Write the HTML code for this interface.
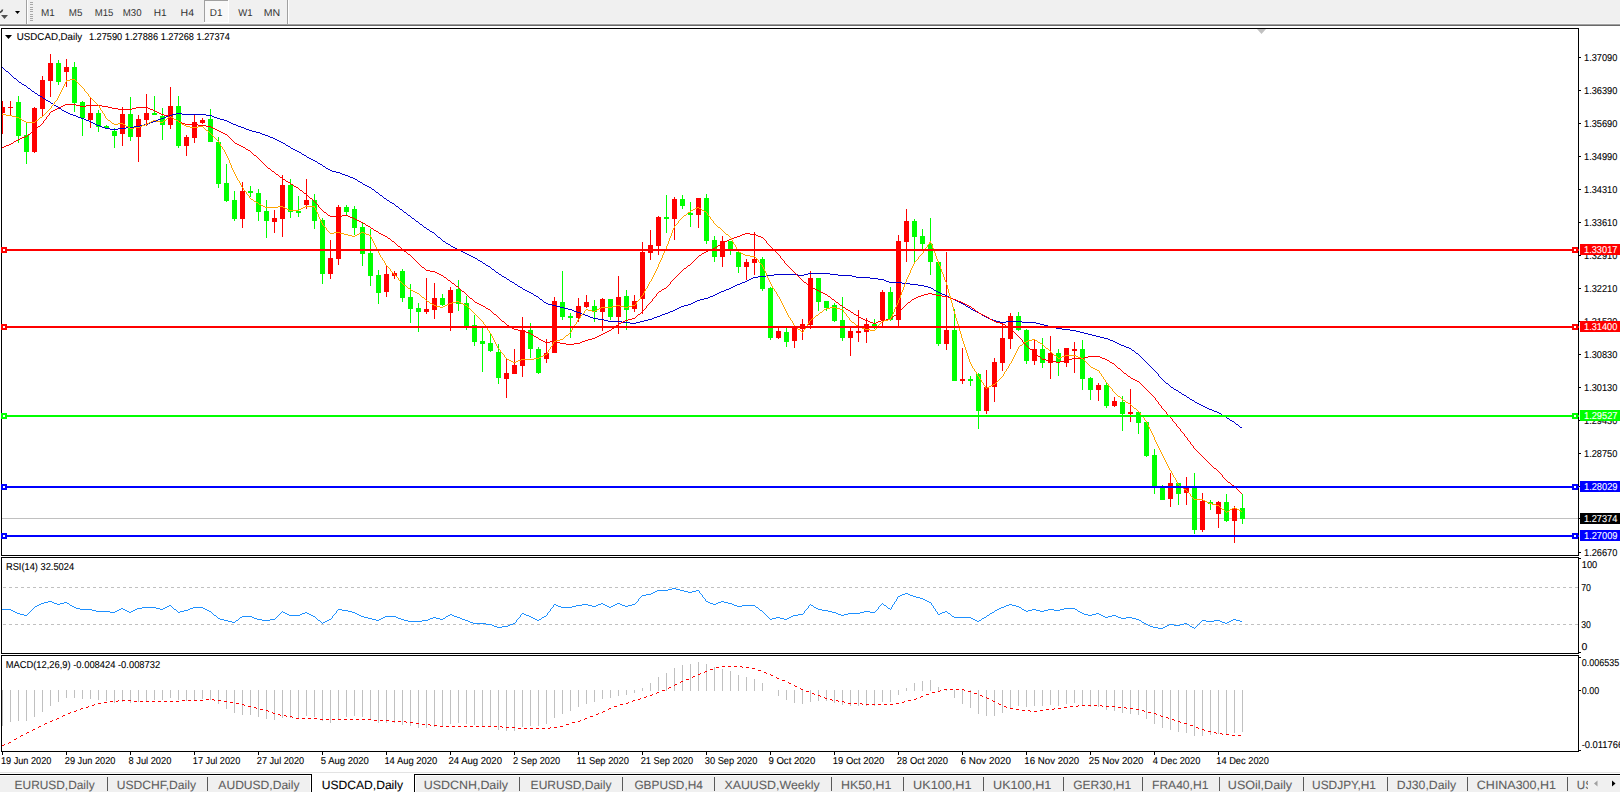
<!DOCTYPE html>
<html><head><meta charset="utf-8"><title>USDCAD,Daily</title>
<style>
html,body{margin:0;padding:0;background:#fff;width:1620px;height:792px;overflow:hidden}
svg{display:block}
text{font-family:'Liberation Sans', sans-serif;text-rendering:geometricPrecision}
</style></head><body>
<svg width="1620" height="792" viewBox="0 0 1620 792">
<defs>
<clipPath id="cmain"><rect x="2" y="29" width="1576" height="526"/></clipPath>
<clipPath id="crsi"><rect x="2" y="558" width="1576" height="95"/></clipPath>
<clipPath id="cmacd"><rect x="2" y="656" width="1576" height="95"/></clipPath>
<clipPath id="cright"><rect x="1579" y="0" width="41" height="792"/></clipPath>
<clipPath id="ctabs"><rect x="0" y="776" width="1588" height="16"/></clipPath>
</defs>
<rect x="0" y="0" width="1620" height="792" fill="#ffffff"/>

<g shape-rendering="crispEdges">
<rect x="0" y="0" width="1620" height="24" fill="#f0f0f0"/>
<rect x="0" y="23" width="1620" height="1" fill="#f5f5f5"/>
<rect x="0" y="24" width="1620" height="1" fill="#a0a0a0"/>
<rect x="0" y="25" width="1620" height="1" fill="#696969"/>
<rect x="26" y="0" width="1" height="24" fill="#a0a0a0"/><rect x="27" y="0" width="1" height="24" fill="#ffffff"/>
<rect x="287" y="0" width="1" height="24" fill="#a0a0a0"/><rect x="288" y="0" width="1" height="24" fill="#ffffff"/>
<rect x="30" y="2" width="3" height="1" fill="#a8a8a8"/>
<rect x="30" y="4" width="3" height="1" fill="#a8a8a8"/>
<rect x="30" y="7" width="3" height="1" fill="#a8a8a8"/>
<rect x="30" y="9" width="3" height="1" fill="#a8a8a8"/>
<rect x="30" y="11" width="3" height="1" fill="#a8a8a8"/>
<rect x="30" y="14" width="3" height="1" fill="#a8a8a8"/>
<rect x="30" y="16" width="3" height="1" fill="#a8a8a8"/>
<rect x="30" y="18" width="3" height="1" fill="#a8a8a8"/>
<rect x="30" y="20" width="3" height="1" fill="#a8a8a8"/>
<rect x="204" y="0" width="25" height="22" fill="#f8f8f8"/>
<rect x="204" y="0" width="25" height="1" fill="#a0a0a0"/><rect x="204" y="0" width="1" height="22" fill="#a0a0a0"/>
<rect x="204" y="22" width="25" height="1" fill="#ffffff"/><rect x="228" y="0" width="1" height="23" fill="#ffffff"/>
</g>
<polygon points="15,11 20,11 17.5,14" fill="#000"/>
<path d="M0,12.5 Q2.5,11 2.5,9.5" stroke="#404040" stroke-width="1.6" fill="none"/>
<polygon points="1,15 8,15 4.5,19" fill="#505050"/>
<text x="40.89" y="16" font-size="10" fill="#333333" textLength="13.80" lengthAdjust="spacingAndGlyphs" >M1</text>
<text x="68.80" y="16" font-size="10" fill="#333333" textLength="13.62" lengthAdjust="spacingAndGlyphs" >M5</text>
<text x="94.82" y="16" font-size="10" fill="#333333" textLength="18.58" lengthAdjust="spacingAndGlyphs" >M15</text>
<text x="122.81" y="16" font-size="10" fill="#333333" textLength="18.77" lengthAdjust="spacingAndGlyphs" >M30</text>
<text x="153.77" y="16" font-size="10" fill="#333333" textLength="12.92" lengthAdjust="spacingAndGlyphs" >H1</text>
<text x="180.64" y="16" font-size="10" fill="#333333" textLength="13.47" lengthAdjust="spacingAndGlyphs" >H4</text>
<text x="209.79" y="16" font-size="10" fill="#333333" textLength="12.70" lengthAdjust="spacingAndGlyphs" >D1</text>
<text x="238.26" y="16" font-size="10" fill="#333333" textLength="14.31" lengthAdjust="spacingAndGlyphs" >W1</text>
<text x="263.73" y="16" font-size="10" fill="#333333" textLength="16.43" lengthAdjust="spacingAndGlyphs" >MN</text>
<g shape-rendering="crispEdges" fill="none" stroke="#000" stroke-width="1">
<rect x="1.5" y="28.5" width="1577" height="527"/>
<rect x="1.5" y="557.5" width="1577" height="96"/>
<rect x="1.5" y="655.5" width="1577" height="96"/>
</g>
<g clip-path="url(#cmain)">
<rect x="2" y="518" width="1576" height="1" fill="#c0c0c0" shape-rendering="crispEdges"/>
<g shape-rendering="crispEdges">
<rect x="2" y="101" width="1" height="33" fill="#ff0000"/>
<rect x="0" y="107" width="5" height="6" fill="#ff0000"/>
<rect x="10" y="101" width="1" height="14" fill="#ff0000"/>
<rect x="8" y="107" width="5" height="1" fill="#ff0000"/>
<rect x="18" y="96" width="1" height="47" fill="#00ff00"/>
<rect x="16" y="102" width="5" height="34" fill="#00ff00"/>
<rect x="26" y="122" width="1" height="42" fill="#00ff00"/>
<rect x="24" y="135" width="5" height="17" fill="#00ff00"/>
<rect x="34" y="107" width="1" height="46" fill="#ff0000"/>
<rect x="32" y="108" width="5" height="44" fill="#ff0000"/>
<rect x="42" y="76" width="1" height="40" fill="#ff0000"/>
<rect x="40" y="80" width="5" height="29" fill="#ff0000"/>
<rect x="50" y="54" width="1" height="43" fill="#ff0000"/>
<rect x="48" y="63" width="5" height="18" fill="#ff0000"/>
<rect x="58" y="60" width="1" height="25" fill="#00ff00"/>
<rect x="56" y="63" width="5" height="19" fill="#00ff00"/>
<rect x="66" y="59" width="1" height="28" fill="#ff0000"/>
<rect x="64" y="67" width="5" height="5" fill="#ff0000"/>
<rect x="74" y="62" width="1" height="50" fill="#00ff00"/>
<rect x="72" y="67" width="5" height="36" fill="#00ff00"/>
<rect x="82" y="101" width="1" height="35" fill="#00ff00"/>
<rect x="80" y="102" width="5" height="16" fill="#00ff00"/>
<rect x="90" y="97" width="1" height="31" fill="#ff0000"/>
<rect x="88" y="113" width="5" height="7" fill="#ff0000"/>
<rect x="98" y="110" width="1" height="22" fill="#00ff00"/>
<rect x="96" y="113" width="5" height="14" fill="#00ff00"/>
<rect x="106" y="125" width="1" height="3" fill="#00ff00"/>
<rect x="104" y="126" width="5" height="2" fill="#00ff00"/>
<rect x="114" y="128" width="1" height="20" fill="#00ff00"/>
<rect x="112" y="131" width="5" height="5" fill="#00ff00"/>
<rect x="122" y="107" width="1" height="39" fill="#ff0000"/>
<rect x="120" y="114" width="5" height="20" fill="#ff0000"/>
<rect x="130" y="97" width="1" height="44" fill="#00ff00"/>
<rect x="128" y="114" width="5" height="23" fill="#00ff00"/>
<rect x="138" y="115" width="1" height="47" fill="#ff0000"/>
<rect x="136" y="119" width="5" height="18" fill="#ff0000"/>
<rect x="146" y="94" width="1" height="32" fill="#ff0000"/>
<rect x="144" y="113" width="5" height="7" fill="#ff0000"/>
<rect x="154" y="96" width="1" height="19" fill="#00ff00"/>
<rect x="152" y="113" width="5" height="2" fill="#00ff00"/>
<rect x="162" y="108" width="1" height="32" fill="#00ff00"/>
<rect x="160" y="116" width="5" height="9" fill="#00ff00"/>
<rect x="170" y="87" width="1" height="42" fill="#ff0000"/>
<rect x="168" y="106" width="5" height="19" fill="#ff0000"/>
<rect x="178" y="96" width="1" height="52" fill="#00ff00"/>
<rect x="176" y="106" width="5" height="40" fill="#00ff00"/>
<rect x="186" y="135" width="1" height="21" fill="#ff0000"/>
<rect x="184" y="137" width="5" height="9" fill="#ff0000"/>
<rect x="194" y="115" width="1" height="28" fill="#ff0000"/>
<rect x="192" y="122" width="5" height="16" fill="#ff0000"/>
<rect x="202" y="118" width="1" height="6" fill="#ff0000"/>
<rect x="200" y="120" width="5" height="3" fill="#ff0000"/>
<rect x="210" y="109" width="1" height="33" fill="#00ff00"/>
<rect x="208" y="119" width="5" height="23" fill="#00ff00"/>
<rect x="218" y="137" width="1" height="51" fill="#00ff00"/>
<rect x="216" y="142" width="5" height="42" fill="#00ff00"/>
<rect x="226" y="164" width="1" height="38" fill="#00ff00"/>
<rect x="224" y="183" width="5" height="18" fill="#00ff00"/>
<rect x="234" y="191" width="1" height="30" fill="#00ff00"/>
<rect x="232" y="200" width="5" height="19" fill="#00ff00"/>
<rect x="242" y="182" width="1" height="46" fill="#ff0000"/>
<rect x="240" y="191" width="5" height="28" fill="#ff0000"/>
<rect x="250" y="186" width="1" height="11" fill="#00ff00"/>
<rect x="248" y="191" width="5" height="2" fill="#00ff00"/>
<rect x="258" y="189" width="1" height="32" fill="#00ff00"/>
<rect x="256" y="193" width="5" height="19" fill="#00ff00"/>
<rect x="266" y="200" width="1" height="38" fill="#00ff00"/>
<rect x="264" y="211" width="5" height="10" fill="#00ff00"/>
<rect x="274" y="210" width="1" height="23" fill="#ff0000"/>
<rect x="272" y="218" width="5" height="4" fill="#ff0000"/>
<rect x="282" y="175" width="1" height="62" fill="#ff0000"/>
<rect x="280" y="185" width="5" height="34" fill="#ff0000"/>
<rect x="290" y="179" width="1" height="39" fill="#00ff00"/>
<rect x="288" y="185" width="5" height="27" fill="#00ff00"/>
<rect x="298" y="196" width="1" height="21" fill="#00ff00"/>
<rect x="296" y="211" width="5" height="2" fill="#00ff00"/>
<rect x="306" y="179" width="1" height="30" fill="#ff0000"/>
<rect x="304" y="200" width="5" height="5" fill="#ff0000"/>
<rect x="314" y="194" width="1" height="35" fill="#00ff00"/>
<rect x="312" y="200" width="5" height="21" fill="#00ff00"/>
<rect x="322" y="218" width="1" height="66" fill="#00ff00"/>
<rect x="320" y="220" width="5" height="54" fill="#00ff00"/>
<rect x="330" y="240" width="1" height="39" fill="#ff0000"/>
<rect x="328" y="258" width="5" height="16" fill="#ff0000"/>
<rect x="338" y="205" width="1" height="60" fill="#ff0000"/>
<rect x="336" y="207" width="5" height="52" fill="#ff0000"/>
<rect x="346" y="205" width="1" height="11" fill="#00ff00"/>
<rect x="344" y="207" width="5" height="5" fill="#00ff00"/>
<rect x="354" y="206" width="1" height="29" fill="#00ff00"/>
<rect x="352" y="209" width="5" height="19" fill="#00ff00"/>
<rect x="362" y="223" width="1" height="43" fill="#00ff00"/>
<rect x="360" y="227" width="5" height="27" fill="#00ff00"/>
<rect x="370" y="229" width="1" height="57" fill="#00ff00"/>
<rect x="368" y="253" width="5" height="23" fill="#00ff00"/>
<rect x="378" y="270" width="1" height="34" fill="#00ff00"/>
<rect x="376" y="275" width="5" height="18" fill="#00ff00"/>
<rect x="386" y="265" width="1" height="32" fill="#ff0000"/>
<rect x="384" y="274" width="5" height="18" fill="#ff0000"/>
<rect x="394" y="271" width="1" height="8" fill="#ff0000"/>
<rect x="392" y="273" width="5" height="3" fill="#ff0000"/>
<rect x="402" y="269" width="1" height="33" fill="#00ff00"/>
<rect x="400" y="271" width="5" height="27" fill="#00ff00"/>
<rect x="410" y="284" width="1" height="39" fill="#00ff00"/>
<rect x="408" y="297" width="5" height="12" fill="#00ff00"/>
<rect x="418" y="303" width="1" height="29" fill="#00ff00"/>
<rect x="416" y="308" width="5" height="4" fill="#00ff00"/>
<rect x="426" y="278" width="1" height="36" fill="#ff0000"/>
<rect x="424" y="309" width="5" height="3" fill="#ff0000"/>
<rect x="434" y="283" width="1" height="36" fill="#ff0000"/>
<rect x="432" y="298" width="5" height="12" fill="#ff0000"/>
<rect x="442" y="294" width="1" height="12" fill="#00ff00"/>
<rect x="440" y="298" width="5" height="7" fill="#00ff00"/>
<rect x="450" y="287" width="1" height="44" fill="#ff0000"/>
<rect x="448" y="290" width="5" height="23" fill="#ff0000"/>
<rect x="458" y="280" width="1" height="31" fill="#00ff00"/>
<rect x="456" y="289" width="5" height="15" fill="#00ff00"/>
<rect x="466" y="296" width="1" height="34" fill="#00ff00"/>
<rect x="464" y="303" width="5" height="23" fill="#00ff00"/>
<rect x="474" y="315" width="1" height="31" fill="#00ff00"/>
<rect x="472" y="325" width="5" height="17" fill="#00ff00"/>
<rect x="482" y="328" width="1" height="44" fill="#00ff00"/>
<rect x="480" y="341" width="5" height="3" fill="#00ff00"/>
<rect x="490" y="334" width="1" height="18" fill="#00ff00"/>
<rect x="488" y="343" width="5" height="8" fill="#00ff00"/>
<rect x="498" y="344" width="1" height="40" fill="#00ff00"/>
<rect x="496" y="352" width="5" height="26" fill="#00ff00"/>
<rect x="506" y="358" width="1" height="40" fill="#ff0000"/>
<rect x="504" y="373" width="5" height="6" fill="#ff0000"/>
<rect x="514" y="349" width="1" height="25" fill="#ff0000"/>
<rect x="512" y="365" width="5" height="9" fill="#ff0000"/>
<rect x="522" y="317" width="1" height="60" fill="#ff0000"/>
<rect x="520" y="330" width="5" height="36" fill="#ff0000"/>
<rect x="530" y="323" width="1" height="35" fill="#00ff00"/>
<rect x="528" y="330" width="5" height="19" fill="#00ff00"/>
<rect x="538" y="347" width="1" height="27" fill="#00ff00"/>
<rect x="536" y="349" width="5" height="24" fill="#00ff00"/>
<rect x="546" y="339" width="1" height="24" fill="#ff0000"/>
<rect x="544" y="353" width="5" height="6" fill="#ff0000"/>
<rect x="554" y="297" width="1" height="56" fill="#ff0000"/>
<rect x="552" y="301" width="5" height="52" fill="#ff0000"/>
<rect x="562" y="271" width="1" height="49" fill="#00ff00"/>
<rect x="560" y="302" width="5" height="15" fill="#00ff00"/>
<rect x="570" y="313" width="1" height="25" fill="#00ff00"/>
<rect x="568" y="316" width="5" height="2" fill="#00ff00"/>
<rect x="578" y="298" width="1" height="24" fill="#ff0000"/>
<rect x="576" y="306" width="5" height="12" fill="#ff0000"/>
<rect x="586" y="295" width="1" height="13" fill="#ff0000"/>
<rect x="584" y="302" width="5" height="5" fill="#ff0000"/>
<rect x="594" y="300" width="1" height="22" fill="#00ff00"/>
<rect x="592" y="306" width="5" height="6" fill="#00ff00"/>
<rect x="602" y="298" width="1" height="33" fill="#ff0000"/>
<rect x="600" y="299" width="5" height="13" fill="#ff0000"/>
<rect x="610" y="299" width="1" height="21" fill="#00ff00"/>
<rect x="608" y="299" width="5" height="18" fill="#00ff00"/>
<rect x="618" y="276" width="1" height="58" fill="#ff0000"/>
<rect x="616" y="297" width="5" height="20" fill="#ff0000"/>
<rect x="626" y="290" width="1" height="40" fill="#00ff00"/>
<rect x="624" y="296" width="5" height="14" fill="#00ff00"/>
<rect x="634" y="295" width="1" height="17" fill="#ff0000"/>
<rect x="632" y="301" width="5" height="8" fill="#ff0000"/>
<rect x="642" y="242" width="1" height="72" fill="#ff0000"/>
<rect x="640" y="252" width="5" height="47" fill="#ff0000"/>
<rect x="650" y="230" width="1" height="30" fill="#ff0000"/>
<rect x="648" y="245" width="5" height="8" fill="#ff0000"/>
<rect x="658" y="216" width="1" height="39" fill="#ff0000"/>
<rect x="656" y="217" width="5" height="29" fill="#ff0000"/>
<rect x="666" y="195" width="1" height="38" fill="#00ff00"/>
<rect x="664" y="217" width="5" height="2" fill="#00ff00"/>
<rect x="674" y="197" width="1" height="43" fill="#ff0000"/>
<rect x="672" y="199" width="5" height="20" fill="#ff0000"/>
<rect x="682" y="195" width="1" height="14" fill="#00ff00"/>
<rect x="680" y="199" width="5" height="7" fill="#00ff00"/>
<rect x="690" y="202" width="1" height="25" fill="#00ff00"/>
<rect x="688" y="213" width="5" height="2" fill="#00ff00"/>
<rect x="698" y="198" width="1" height="30" fill="#ff0000"/>
<rect x="696" y="198" width="5" height="17" fill="#ff0000"/>
<rect x="706" y="194" width="1" height="50" fill="#00ff00"/>
<rect x="704" y="198" width="5" height="43" fill="#00ff00"/>
<rect x="714" y="236" width="1" height="26" fill="#00ff00"/>
<rect x="712" y="240" width="5" height="17" fill="#00ff00"/>
<rect x="722" y="236" width="1" height="31" fill="#ff0000"/>
<rect x="720" y="241" width="5" height="16" fill="#ff0000"/>
<rect x="730" y="241" width="1" height="14" fill="#00ff00"/>
<rect x="728" y="241" width="5" height="8" fill="#00ff00"/>
<rect x="738" y="252" width="1" height="21" fill="#00ff00"/>
<rect x="736" y="252" width="5" height="15" fill="#00ff00"/>
<rect x="746" y="259" width="1" height="21" fill="#ff0000"/>
<rect x="744" y="262" width="5" height="5" fill="#ff0000"/>
<rect x="754" y="232" width="1" height="43" fill="#ff0000"/>
<rect x="752" y="259" width="5" height="4" fill="#ff0000"/>
<rect x="762" y="257" width="1" height="34" fill="#00ff00"/>
<rect x="760" y="259" width="5" height="30" fill="#00ff00"/>
<rect x="770" y="287" width="1" height="53" fill="#00ff00"/>
<rect x="768" y="288" width="5" height="50" fill="#00ff00"/>
<rect x="778" y="328" width="1" height="11" fill="#ff0000"/>
<rect x="776" y="331" width="5" height="7" fill="#ff0000"/>
<rect x="786" y="328" width="1" height="19" fill="#00ff00"/>
<rect x="784" y="332" width="5" height="10" fill="#00ff00"/>
<rect x="794" y="325" width="1" height="23" fill="#ff0000"/>
<rect x="792" y="326" width="5" height="15" fill="#ff0000"/>
<rect x="802" y="319" width="1" height="21" fill="#ff0000"/>
<rect x="800" y="324" width="5" height="5" fill="#ff0000"/>
<rect x="810" y="271" width="1" height="58" fill="#ff0000"/>
<rect x="808" y="278" width="5" height="47" fill="#ff0000"/>
<rect x="818" y="278" width="1" height="33" fill="#00ff00"/>
<rect x="816" y="278" width="5" height="24" fill="#00ff00"/>
<rect x="826" y="301" width="1" height="10" fill="#00ff00"/>
<rect x="824" y="301" width="5" height="7" fill="#00ff00"/>
<rect x="834" y="303" width="1" height="19" fill="#00ff00"/>
<rect x="832" y="305" width="5" height="16" fill="#00ff00"/>
<rect x="842" y="297" width="1" height="44" fill="#00ff00"/>
<rect x="840" y="320" width="5" height="18" fill="#00ff00"/>
<rect x="850" y="328" width="1" height="28" fill="#ff0000"/>
<rect x="848" y="331" width="5" height="7" fill="#ff0000"/>
<rect x="858" y="310" width="1" height="32" fill="#ff0000"/>
<rect x="856" y="331" width="5" height="2" fill="#ff0000"/>
<rect x="866" y="318" width="1" height="25" fill="#ff0000"/>
<rect x="864" y="324" width="5" height="8" fill="#ff0000"/>
<rect x="874" y="319" width="1" height="10" fill="#00ff00"/>
<rect x="872" y="324" width="5" height="2" fill="#00ff00"/>
<rect x="882" y="290" width="1" height="36" fill="#ff0000"/>
<rect x="880" y="292" width="5" height="28" fill="#ff0000"/>
<rect x="890" y="287" width="1" height="34" fill="#00ff00"/>
<rect x="888" y="292" width="5" height="28" fill="#00ff00"/>
<rect x="898" y="235" width="1" height="91" fill="#ff0000"/>
<rect x="896" y="241" width="5" height="79" fill="#ff0000"/>
<rect x="906" y="209" width="1" height="53" fill="#ff0000"/>
<rect x="904" y="221" width="5" height="21" fill="#ff0000"/>
<rect x="914" y="219" width="1" height="43" fill="#00ff00"/>
<rect x="912" y="221" width="5" height="16" fill="#00ff00"/>
<rect x="922" y="229" width="1" height="20" fill="#00ff00"/>
<rect x="920" y="236" width="5" height="8" fill="#00ff00"/>
<rect x="930" y="218" width="1" height="57" fill="#00ff00"/>
<rect x="928" y="244" width="5" height="18" fill="#00ff00"/>
<rect x="938" y="262" width="1" height="84" fill="#00ff00"/>
<rect x="936" y="262" width="5" height="82" fill="#00ff00"/>
<rect x="946" y="252" width="1" height="98" fill="#ff0000"/>
<rect x="944" y="330" width="5" height="14" fill="#ff0000"/>
<rect x="954" y="309" width="1" height="72" fill="#00ff00"/>
<rect x="952" y="330" width="5" height="51" fill="#00ff00"/>
<rect x="962" y="348" width="1" height="36" fill="#ff0000"/>
<rect x="960" y="379" width="5" height="2" fill="#ff0000"/>
<rect x="970" y="376" width="1" height="10" fill="#00ff00"/>
<rect x="968" y="379" width="5" height="2" fill="#00ff00"/>
<rect x="978" y="373" width="1" height="56" fill="#00ff00"/>
<rect x="976" y="374" width="5" height="37" fill="#00ff00"/>
<rect x="986" y="370" width="1" height="44" fill="#ff0000"/>
<rect x="984" y="387" width="5" height="24" fill="#ff0000"/>
<rect x="994" y="358" width="1" height="44" fill="#ff0000"/>
<rect x="992" y="362" width="5" height="25" fill="#ff0000"/>
<rect x="1002" y="322" width="1" height="49" fill="#ff0000"/>
<rect x="1000" y="338" width="5" height="25" fill="#ff0000"/>
<rect x="1010" y="313" width="1" height="36" fill="#ff0000"/>
<rect x="1008" y="316" width="5" height="23" fill="#ff0000"/>
<rect x="1018" y="312" width="1" height="19" fill="#00ff00"/>
<rect x="1016" y="316" width="5" height="14" fill="#00ff00"/>
<rect x="1026" y="329" width="1" height="35" fill="#00ff00"/>
<rect x="1024" y="330" width="5" height="31" fill="#00ff00"/>
<rect x="1034" y="340" width="1" height="25" fill="#ff0000"/>
<rect x="1032" y="349" width="5" height="12" fill="#ff0000"/>
<rect x="1042" y="338" width="1" height="30" fill="#00ff00"/>
<rect x="1040" y="349" width="5" height="14" fill="#00ff00"/>
<rect x="1050" y="336" width="1" height="43" fill="#ff0000"/>
<rect x="1048" y="353" width="5" height="10" fill="#ff0000"/>
<rect x="1058" y="349" width="1" height="27" fill="#00ff00"/>
<rect x="1056" y="353" width="5" height="9" fill="#00ff00"/>
<rect x="1066" y="348" width="1" height="19" fill="#ff0000"/>
<rect x="1064" y="348" width="5" height="15" fill="#ff0000"/>
<rect x="1074" y="342" width="1" height="31" fill="#ff0000"/>
<rect x="1072" y="349" width="5" height="2" fill="#ff0000"/>
<rect x="1082" y="340" width="1" height="50" fill="#00ff00"/>
<rect x="1080" y="349" width="5" height="30" fill="#00ff00"/>
<rect x="1090" y="377" width="1" height="23" fill="#00ff00"/>
<rect x="1088" y="378" width="5" height="12" fill="#00ff00"/>
<rect x="1098" y="383" width="1" height="18" fill="#ff0000"/>
<rect x="1096" y="385" width="5" height="5" fill="#ff0000"/>
<rect x="1106" y="382" width="1" height="26" fill="#00ff00"/>
<rect x="1104" y="385" width="5" height="21" fill="#00ff00"/>
<rect x="1114" y="397" width="1" height="10" fill="#ff0000"/>
<rect x="1112" y="401" width="5" height="5" fill="#ff0000"/>
<rect x="1122" y="396" width="1" height="35" fill="#00ff00"/>
<rect x="1120" y="402" width="5" height="12" fill="#00ff00"/>
<rect x="1130" y="389" width="1" height="33" fill="#ff0000"/>
<rect x="1128" y="412" width="5" height="2" fill="#ff0000"/>
<rect x="1138" y="412" width="1" height="22" fill="#00ff00"/>
<rect x="1136" y="412" width="5" height="11" fill="#00ff00"/>
<rect x="1146" y="422" width="1" height="35" fill="#00ff00"/>
<rect x="1144" y="422" width="5" height="34" fill="#00ff00"/>
<rect x="1154" y="449" width="1" height="45" fill="#00ff00"/>
<rect x="1152" y="455" width="5" height="31" fill="#00ff00"/>
<rect x="1162" y="485" width="1" height="15" fill="#00ff00"/>
<rect x="1160" y="487" width="5" height="13" fill="#00ff00"/>
<rect x="1170" y="473" width="1" height="34" fill="#ff0000"/>
<rect x="1168" y="483" width="5" height="16" fill="#ff0000"/>
<rect x="1178" y="483" width="1" height="22" fill="#00ff00"/>
<rect x="1176" y="483" width="5" height="11" fill="#00ff00"/>
<rect x="1186" y="477" width="1" height="28" fill="#ff0000"/>
<rect x="1184" y="488" width="5" height="5" fill="#ff0000"/>
<rect x="1194" y="473" width="1" height="61" fill="#00ff00"/>
<rect x="1192" y="488" width="5" height="42" fill="#00ff00"/>
<rect x="1202" y="493" width="1" height="39" fill="#ff0000"/>
<rect x="1200" y="501" width="5" height="29" fill="#ff0000"/>
<rect x="1210" y="500" width="1" height="10" fill="#00ff00"/>
<rect x="1208" y="502" width="5" height="2" fill="#00ff00"/>
<rect x="1218" y="501" width="1" height="27" fill="#ff0000"/>
<rect x="1216" y="502" width="5" height="12" fill="#ff0000"/>
<rect x="1226" y="494" width="1" height="28" fill="#00ff00"/>
<rect x="1224" y="502" width="5" height="19" fill="#00ff00"/>
<rect x="1234" y="506" width="1" height="37" fill="#ff0000"/>
<rect x="1232" y="508" width="5" height="13" fill="#ff0000"/>
<rect x="1242" y="494" width="1" height="30" fill="#00ff00"/>
<rect x="1240" y="508" width="5" height="11" fill="#00ff00"/>
</g>
<g shape-rendering="crispEdges">
<path d="M2 67h1v1h-1zM3 68h1v1h-1zM4 69h1v1h-1zM5 70h1v1h-1zM6 71h2v1h-2zM8 72h1v1h-1zM9 73h1v1h-1zM10 74h1v1h-1zM11 75h1v1h-1zM12 76h1v1h-1zM13 77h1v1h-1zM14 78h2v1h-2zM16 79h1v1h-1zM17 80h1v1h-1zM18 81h1v1h-1zM19 82h2v1h-2zM21 83h1v1h-1zM22 84h2v1h-2zM24 85h2v1h-2zM26 86h1v1h-1zM27 87h1v1h-1zM28 88h2v1h-2zM30 89h1v1h-1zM31 90h1v1h-1zM32 91h2v1h-2zM34 92h1v1h-1zM35 93h2v1h-2zM37 94h1v1h-1zM38 95h2v1h-2zM40 96h2v1h-2zM42 97h1v1h-1zM43 98h2v1h-2zM45 99h1v1h-1zM46 100h2v1h-2zM48 101h2v1h-2zM50 102h1v1h-1zM51 103h2v1h-2zM53 104h1v1h-1zM54 105h2v1h-2zM56 106h2v1h-2zM58 107h1v1h-1zM59 108h2v1h-2zM61 109h1v1h-1zM62 110h2v1h-2zM64 111h2v1h-2zM66 112h2v1h-2zM68 113h2v1h-2zM176 113h6v1h-6zM70 114h3v1h-3zM172 114h4v1h-4zM182 114h24v1h-24zM73 115h3v1h-3zM169 115h3v1h-3zM206 115h6v1h-6zM76 116h2v1h-2zM166 116h3v1h-3zM212 116h2v1h-2zM78 117h3v1h-3zM164 117h2v1h-2zM214 117h3v1h-3zM81 118h3v1h-3zM161 118h3v1h-3zM217 118h3v1h-3zM84 119h2v1h-2zM158 119h3v1h-3zM220 119h4v1h-4zM86 120h3v1h-3zM156 120h2v1h-2zM224 120h3v1h-3zM89 121h2v1h-2zM153 121h3v1h-3zM227 121h2v1h-2zM91 122h2v1h-2zM150 122h3v1h-3zM229 122h2v1h-2zM93 123h2v1h-2zM148 123h2v1h-2zM231 123h2v1h-2zM95 124h2v1h-2zM144 124h4v1h-4zM233 124h3v1h-3zM97 125h3v1h-3zM140 125h4v1h-4zM236 125h2v1h-2zM100 126h2v1h-2zM134 126h6v1h-6zM238 126h3v1h-3zM102 127h3v1h-3zM126 127h8v1h-8zM241 127h3v1h-3zM105 128h5v1h-5zM118 128h8v1h-8zM244 128h2v1h-2zM110 129h8v1h-8zM246 129h3v1h-3zM249 130h3v1h-3zM252 131h4v1h-4zM256 132h4v1h-4zM260 133h2v1h-2zM262 134h3v1h-3zM265 135h3v1h-3zM268 136h2v1h-2zM270 137h3v1h-3zM273 138h2v1h-2zM275 139h2v1h-2zM277 140h2v1h-2zM279 141h2v1h-2zM281 142h2v1h-2zM283 143h2v1h-2zM285 144h1v1h-1zM286 145h2v1h-2zM288 146h2v1h-2zM290 147h1v1h-1zM291 148h2v1h-2zM293 149h2v1h-2zM295 150h2v1h-2zM297 151h2v1h-2zM299 152h2v1h-2zM301 153h1v1h-1zM302 154h2v1h-2zM304 155h2v1h-2zM306 156h1v1h-1zM307 157h2v1h-2zM309 158h2v1h-2zM311 159h2v1h-2zM313 160h2v1h-2zM315 161h2v1h-2zM317 162h1v1h-1zM318 163h2v1h-2zM320 164h2v1h-2zM322 165h1v1h-1zM323 166h2v1h-2zM325 167h1v1h-1zM326 168h2v1h-2zM328 169h2v1h-2zM330 170h2v1h-2zM332 171h4v1h-4zM336 172h4v1h-4zM340 173h2v1h-2zM342 174h3v1h-3zM345 175h3v1h-3zM348 176h2v1h-2zM350 177h3v1h-3zM353 178h2v1h-2zM355 179h2v1h-2zM357 180h1v1h-1zM358 181h2v1h-2zM360 182h2v1h-2zM362 183h1v1h-1zM363 184h2v1h-2zM365 185h2v1h-2zM367 186h2v1h-2zM369 187h2v1h-2zM371 188h1v1h-1zM372 189h2v1h-2zM374 190h1v1h-1zM375 191h1v1h-1zM376 192h2v1h-2zM378 193h1v1h-1zM379 194h1v1h-1zM380 195h2v1h-2zM382 196h1v1h-1zM383 197h1v1h-1zM384 198h2v1h-2zM386 199h1v1h-1zM387 200h2v1h-2zM389 201h1v1h-1zM390 202h2v1h-2zM392 203h2v1h-2zM394 204h1v1h-1zM395 205h1v1h-1zM396 206h2v1h-2zM398 207h1v1h-1zM399 208h1v1h-1zM400 209h2v1h-2zM402 210h1v1h-1zM403 211h1v1h-1zM404 212h2v1h-2zM406 213h1v1h-1zM407 214h1v1h-1zM408 215h2v1h-2zM410 216h1v1h-1zM411 217h1v1h-1zM412 218h2v1h-2zM414 219h1v1h-1zM415 220h1v1h-1zM416 221h2v1h-2zM418 222h1v1h-1zM419 223h1v1h-1zM420 224h2v1h-2zM422 225h1v1h-1zM423 226h1v1h-1zM424 227h2v1h-2zM426 228h1v1h-1zM427 229h2v1h-2zM429 230h1v1h-1zM430 231h2v1h-2zM432 232h2v1h-2zM434 233h1v1h-1zM435 234h1v1h-1zM436 235h1v1h-1zM437 236h1v1h-1zM438 237h2v1h-2zM440 238h1v1h-1zM441 239h1v1h-1zM442 240h1v1h-1zM443 241h2v1h-2zM445 242h1v1h-1zM446 243h2v1h-2zM448 244h2v1h-2zM450 245h1v1h-1zM451 246h2v1h-2zM453 247h2v1h-2zM455 248h2v1h-2zM457 249h2v1h-2zM459 250h2v1h-2zM461 251h2v1h-2zM463 252h2v1h-2zM465 253h2v1h-2zM467 254h2v1h-2zM469 255h2v1h-2zM471 256h2v1h-2zM473 257h2v1h-2zM475 258h2v1h-2zM477 259h1v1h-1zM478 260h2v1h-2zM480 261h2v1h-2zM482 262h1v1h-1zM483 263h2v1h-2zM485 264h1v1h-1zM486 265h2v1h-2zM488 266h2v1h-2zM490 267h1v1h-1zM491 268h1v1h-1zM492 269h2v1h-2zM494 270h1v1h-1zM495 271h1v1h-1zM496 272h2v1h-2zM498 273h1v1h-1zM808 273h22v1h-22zM499 274h2v1h-2zM774 274h24v1h-24zM804 274h4v1h-4zM830 274h8v1h-8zM501 275h1v1h-1zM766 275h8v1h-8zM798 275h6v1h-6zM838 275h14v1h-14zM502 276h2v1h-2zM758 276h8v1h-8zM852 276h4v1h-4zM504 277h2v1h-2zM753 277h5v1h-5zM856 277h14v1h-14zM506 278h1v1h-1zM751 278h2v1h-2zM870 278h8v1h-8zM507 279h2v1h-2zM749 279h2v1h-2zM878 279h6v1h-6zM509 280h1v1h-1zM747 280h2v1h-2zM884 280h2v1h-2zM510 281h2v1h-2zM745 281h2v1h-2zM886 281h3v1h-3zM512 282h2v1h-2zM742 282h3v1h-3zM889 282h13v1h-13zM514 283h1v1h-1zM740 283h2v1h-2zM902 283h8v1h-8zM515 284h2v1h-2zM737 284h3v1h-3zM910 284h8v1h-8zM517 285h1v1h-1zM735 285h2v1h-2zM918 285h6v1h-6zM518 286h2v1h-2zM733 286h2v1h-2zM924 286h4v1h-4zM520 287h2v1h-2zM731 287h2v1h-2zM928 287h3v1h-3zM522 288h1v1h-1zM729 288h2v1h-2zM931 288h2v1h-2zM523 289h2v1h-2zM726 289h3v1h-3zM933 289h1v1h-1zM525 290h2v1h-2zM724 290h2v1h-2zM934 290h2v1h-2zM527 291h2v1h-2zM721 291h3v1h-3zM936 291h2v1h-2zM529 292h2v1h-2zM719 292h2v1h-2zM938 292h2v1h-2zM531 293h2v1h-2zM717 293h2v1h-2zM940 293h2v1h-2zM533 294h1v1h-1zM715 294h2v1h-2zM942 294h3v1h-3zM534 295h2v1h-2zM713 295h2v1h-2zM945 295h2v1h-2zM536 296h2v1h-2zM710 296h3v1h-3zM947 296h2v1h-2zM538 297h1v1h-1zM708 297h2v1h-2zM949 297h2v1h-2zM539 298h1v1h-1zM704 298h4v1h-4zM951 298h2v1h-2zM540 299h2v1h-2zM700 299h4v1h-4zM953 299h2v1h-2zM542 300h1v1h-1zM697 300h3v1h-3zM955 300h2v1h-2zM543 301h1v1h-1zM695 301h2v1h-2zM957 301h2v1h-2zM544 302h2v1h-2zM693 302h2v1h-2zM959 302h2v1h-2zM546 303h2v1h-2zM691 303h2v1h-2zM961 303h2v1h-2zM548 304h4v1h-4zM688 304h3v1h-3zM963 304h2v1h-2zM552 305h4v1h-4zM684 305h4v1h-4zM965 305h1v1h-1zM556 306h4v1h-4zM681 306h3v1h-3zM966 306h2v1h-2zM560 307h4v1h-4zM679 307h2v1h-2zM968 307h2v1h-2zM564 308h4v1h-4zM677 308h2v1h-2zM970 308h1v1h-1zM568 309h4v1h-4zM675 309h2v1h-2zM971 309h2v1h-2zM572 310h2v1h-2zM673 310h2v1h-2zM973 310h2v1h-2zM574 311h3v1h-3zM670 311h3v1h-3zM975 311h2v1h-2zM577 312h3v1h-3zM668 312h2v1h-2zM977 312h2v1h-2zM580 313h2v1h-2zM665 313h3v1h-3zM979 313h2v1h-2zM582 314h3v1h-3zM662 314h3v1h-3zM981 314h1v1h-1zM585 315h3v1h-3zM660 315h2v1h-2zM982 315h2v1h-2zM588 316h2v1h-2zM657 316h3v1h-3zM984 316h2v1h-2zM590 317h3v1h-3zM654 317h3v1h-3zM986 317h2v1h-2zM593 318h5v1h-5zM652 318h2v1h-2zM988 318h2v1h-2zM598 319h6v1h-6zM648 319h4v1h-4zM990 319h3v1h-3zM604 320h4v1h-4zM644 320h4v1h-4zM993 320h3v1h-3zM608 321h14v1h-14zM640 321h4v1h-4zM996 321h4v1h-4zM1006 321h16v1h-16zM622 322h8v1h-8zM636 322h4v1h-4zM1000 322h6v1h-6zM1022 322h14v1h-14zM630 323h6v1h-6zM1036 323h4v1h-4zM1040 324h4v1h-4zM1044 325h4v1h-4zM1048 326h4v1h-4zM1052 327h4v1h-4zM1056 328h6v1h-6zM1062 329h8v1h-8zM1070 330h6v1h-6zM1076 331h4v1h-4zM1080 332h4v1h-4zM1084 333h4v1h-4zM1088 334h4v1h-4zM1092 335h4v1h-4zM1096 336h4v1h-4zM1100 337h4v1h-4zM1104 338h4v1h-4zM1108 339h2v1h-2zM1110 340h3v1h-3zM1113 341h2v1h-2zM1115 342h2v1h-2zM1117 343h2v1h-2zM1119 344h2v1h-2zM1121 345h3v1h-3zM1124 346h2v1h-2zM1126 347h3v1h-3zM1129 348h2v1h-2zM1131 349h1v1h-1zM1132 350h2v1h-2zM1134 351h1v1h-1zM1135 352h1v1h-1zM1136 353h2v1h-2zM1138 354h1v1h-1zM1139 355h1v1h-1zM1140 356h1v1h-1zM1141 357h1v1h-1zM1142 358h1v1h-1zM1143 359h1v1h-1zM1144 360h1v1h-1zM1145 361h1v1h-1zM1146 362h1v1h-1zM1147 363h1v1h-1zM1148 364h1v1h-1zM1149 365h1v1h-1zM1150 366h1v1h-1zM1151 367h1v1h-1zM1152 368h1v1h-1zM1153 369h1v1h-1zM1154 370h1v1h-1zM1155 371h1v1h-1zM1156 372h1v1h-1zM1157 373h1v1h-1zM1158 374h1v1h-1zM1158 375h1v1h-1zM1159 376h1v1h-1zM1160 377h1v1h-1zM1161 378h1v1h-1zM1162 379h1v1h-1zM1163 380h1v1h-1zM1164 381h1v1h-1zM1165 382h1v1h-1zM1166 383h2v1h-2zM1168 384h1v1h-1zM1169 385h1v1h-1zM1170 386h1v1h-1zM1171 387h2v1h-2zM1173 388h1v1h-1zM1174 389h2v1h-2zM1176 390h2v1h-2zM1178 391h1v1h-1zM1179 392h2v1h-2zM1181 393h1v1h-1zM1182 394h2v1h-2zM1184 395h2v1h-2zM1186 396h1v1h-1zM1187 397h2v1h-2zM1189 398h1v1h-1zM1190 399h2v1h-2zM1192 400h2v1h-2zM1194 401h1v1h-1zM1195 402h2v1h-2zM1197 403h2v1h-2zM1199 404h2v1h-2zM1201 405h2v1h-2zM1203 406h2v1h-2zM1205 407h2v1h-2zM1207 408h2v1h-2zM1209 409h3v1h-3zM1212 410h2v1h-2zM1214 411h3v1h-3zM1217 412h2v1h-2zM1219 413h2v1h-2zM1221 414h1v1h-1zM1222 415h2v1h-2zM1224 416h2v1h-2zM1226 417h1v1h-1zM1227 418h2v1h-2zM1229 419h1v1h-1zM1230 420h2v1h-2zM1232 421h2v1h-2zM1234 422h1v1h-1zM1235 423h1v1h-1zM1236 424h2v1h-2zM1238 425h1v1h-1zM1239 426h1v1h-1zM1240 427h2v1h-2z" fill="#0000cd" shape-rendering="crispEdges"/>
<path d="M65 104h11v1h-11zM63 105h2v1h-2zM76 105h4v1h-4zM86 105h16v1h-16zM61 106h2v1h-2zM80 106h6v1h-6zM102 106h6v1h-6zM59 107h2v1h-2zM108 107h4v1h-4zM136 107h12v1h-12zM57 108h2v1h-2zM112 108h6v1h-6zM132 108h4v1h-4zM148 108h2v1h-2zM55 109h2v1h-2zM118 109h14v1h-14zM150 109h3v1h-3zM53 110h2v1h-2zM153 110h2v1h-2zM51 111h2v1h-2zM155 111h2v1h-2zM50 112h1v1h-1zM157 112h2v1h-2zM49 113h1v1h-1zM159 113h2v1h-2zM49 114h1v1h-1zM161 114h3v1h-3zM48 115h1v1h-1zM164 115h4v1h-4zM47 116h1v1h-1zM168 116h3v1h-3zM46 117h1v1h-1zM171 117h2v1h-2zM46 118h1v1h-1zM173 118h1v1h-1zM45 119h1v1h-1zM174 119h2v1h-2zM44 120h1v1h-1zM176 120h2v1h-2zM43 121h1v1h-1zM178 121h2v1h-2zM43 122h1v1h-1zM180 122h2v1h-2zM42 123h1v1h-1zM182 123h3v1h-3zM41 124h1v1h-1zM185 124h13v1h-13zM40 125h1v1h-1zM198 125h8v1h-8zM38 126h2v1h-2zM206 126h5v1h-5zM37 127h1v1h-1zM211 127h2v1h-2zM36 128h1v1h-1zM213 128h2v1h-2zM35 129h1v1h-1zM215 129h2v1h-2zM34 130h1v1h-1zM217 130h2v1h-2zM32 131h2v1h-2zM219 131h2v1h-2zM31 132h1v1h-1zM221 132h2v1h-2zM30 133h1v1h-1zM223 133h2v1h-2zM28 134h2v1h-2zM225 134h2v1h-2zM27 135h1v1h-1zM227 135h1v1h-1zM25 136h2v1h-2zM228 136h1v1h-1zM22 137h3v1h-3zM229 137h1v1h-1zM20 138h2v1h-2zM230 138h1v1h-1zM18 139h2v1h-2zM231 139h1v1h-1zM16 140h2v1h-2zM232 140h1v1h-1zM14 141h2v1h-2zM233 141h1v1h-1zM13 142h1v1h-1zM234 142h1v1h-1zM11 143h2v1h-2zM235 143h2v1h-2zM9 144h2v1h-2zM237 144h2v1h-2zM6 145h3v1h-3zM239 145h2v1h-2zM4 146h2v1h-2zM241 146h2v1h-2zM2 147h2v1h-2zM243 147h2v1h-2zM245 148h1v1h-1zM246 149h2v1h-2zM248 150h2v1h-2zM250 151h1v1h-1zM251 152h1v1h-1zM252 153h1v1h-1zM253 154h1v1h-1zM254 155h2v1h-2zM256 156h1v1h-1zM257 157h1v1h-1zM258 158h1v1h-1zM259 159h1v1h-1zM260 160h1v1h-1zM261 161h1v1h-1zM262 162h1v1h-1zM263 163h1v1h-1zM264 164h1v1h-1zM265 165h1v1h-1zM266 166h1v1h-1zM267 167h1v1h-1zM268 168h2v1h-2zM270 169h1v1h-1zM271 170h1v1h-1zM272 171h2v1h-2zM274 172h1v1h-1zM275 173h1v1h-1zM276 174h2v1h-2zM278 175h1v1h-1zM279 176h1v1h-1zM280 177h2v1h-2zM282 178h1v1h-1zM283 179h2v1h-2zM285 180h1v1h-1zM286 181h2v1h-2zM288 182h2v1h-2zM290 183h1v1h-1zM291 184h2v1h-2zM293 185h1v1h-1zM294 186h2v1h-2zM296 187h2v1h-2zM298 188h1v1h-1zM299 189h1v1h-1zM300 190h2v1h-2zM302 191h1v1h-1zM303 192h1v1h-1zM304 193h2v1h-2zM306 194h1v1h-1zM307 195h1v1h-1zM308 196h1v1h-1zM309 197h1v1h-1zM310 198h2v1h-2zM312 199h1v1h-1zM313 200h1v1h-1zM314 201h1v1h-1zM315 202h1v1h-1zM316 203h1v1h-1zM317 204h1v1h-1zM318 205h1v1h-1zM318 206h1v1h-1zM319 207h1v1h-1zM320 208h1v1h-1zM321 209h1v1h-1zM322 210h1v1h-1zM323 211h1v1h-1zM324 212h2v1h-2zM326 213h1v1h-1zM327 214h1v1h-1zM328 215h2v1h-2zM342 215h6v1h-6zM330 216h12v1h-12zM348 216h2v1h-2zM350 217h3v1h-3zM353 218h2v1h-2zM355 219h2v1h-2zM357 220h2v1h-2zM359 221h2v1h-2zM361 222h2v1h-2zM363 223h2v1h-2zM365 224h1v1h-1zM366 225h2v1h-2zM368 226h2v1h-2zM370 227h1v1h-1zM371 228h2v1h-2zM373 229h1v1h-1zM374 230h2v1h-2zM376 231h2v1h-2zM378 232h1v1h-1zM379 233h2v1h-2zM745 233h5v1h-5zM381 234h2v1h-2zM742 234h3v1h-3zM750 234h6v1h-6zM383 235h2v1h-2zM740 235h2v1h-2zM756 235h2v1h-2zM385 236h2v1h-2zM737 236h3v1h-3zM758 236h3v1h-3zM387 237h1v1h-1zM734 237h3v1h-3zM761 237h2v1h-2zM388 238h2v1h-2zM732 238h2v1h-2zM763 238h1v1h-1zM390 239h1v1h-1zM729 239h3v1h-3zM764 239h1v1h-1zM391 240h1v1h-1zM727 240h2v1h-2zM765 240h1v1h-1zM392 241h2v1h-2zM725 241h2v1h-2zM766 241h1v1h-1zM394 242h1v1h-1zM723 242h2v1h-2zM766 242h1v1h-1zM395 243h1v1h-1zM722 243h1v1h-1zM767 243h1v1h-1zM396 244h1v1h-1zM720 244h2v1h-2zM768 244h1v1h-1zM397 245h1v1h-1zM718 245h2v1h-2zM769 245h1v1h-1zM398 246h2v1h-2zM717 246h1v1h-1zM770 246h1v1h-1zM400 247h1v1h-1zM715 247h2v1h-2zM771 247h1v1h-1zM401 248h1v1h-1zM713 248h2v1h-2zM772 248h1v1h-1zM402 249h1v1h-1zM710 249h3v1h-3zM773 249h1v1h-1zM403 250h1v1h-1zM708 250h2v1h-2zM774 250h1v1h-1zM404 251h2v1h-2zM706 251h2v1h-2zM775 251h1v1h-1zM406 252h1v1h-1zM704 252h2v1h-2zM776 252h1v1h-1zM407 253h1v1h-1zM702 253h2v1h-2zM777 253h1v1h-1zM408 254h2v1h-2zM701 254h1v1h-1zM778 254h1v1h-1zM410 255h1v1h-1zM699 255h2v1h-2zM779 255h1v1h-1zM411 256h1v1h-1zM698 256h1v1h-1zM780 256h1v1h-1zM412 257h1v1h-1zM697 257h1v1h-1zM780 257h1v1h-1zM413 258h1v1h-1zM696 258h1v1h-1zM781 258h1v1h-1zM414 259h1v1h-1zM695 259h1v1h-1zM782 259h1v1h-1zM415 260h1v1h-1zM694 260h1v1h-1zM783 260h1v1h-1zM416 261h1v1h-1zM693 261h1v1h-1zM784 261h1v1h-1zM417 262h1v1h-1zM692 262h1v1h-1zM784 262h1v1h-1zM418 263h1v1h-1zM691 263h1v1h-1zM785 263h1v1h-1zM419 264h1v1h-1zM690 264h1v1h-1zM786 264h1v1h-1zM420 265h1v1h-1zM688 265h2v1h-2zM787 265h1v1h-1zM421 266h1v1h-1zM687 266h1v1h-1zM788 266h1v1h-1zM422 267h2v1h-2zM686 267h1v1h-1zM789 267h1v1h-1zM424 268h1v1h-1zM684 268h2v1h-2zM790 268h1v1h-1zM425 269h1v1h-1zM683 269h1v1h-1zM791 269h1v1h-1zM426 270h4v1h-4zM682 270h1v1h-1zM792 270h1v1h-1zM430 271h5v1h-5zM681 271h1v1h-1zM793 271h1v1h-1zM435 272h2v1h-2zM680 272h1v1h-1zM794 272h1v1h-1zM437 273h2v1h-2zM679 273h1v1h-1zM795 273h1v1h-1zM439 274h2v1h-2zM678 274h1v1h-1zM796 274h1v1h-1zM441 275h2v1h-2zM677 275h1v1h-1zM797 275h1v1h-1zM443 276h1v1h-1zM676 276h1v1h-1zM798 276h1v1h-1zM444 277h2v1h-2zM675 277h1v1h-1zM799 277h1v1h-1zM446 278h1v1h-1zM674 278h1v1h-1zM800 278h1v1h-1zM447 279h1v1h-1zM673 279h1v1h-1zM801 279h1v1h-1zM448 280h2v1h-2zM672 280h1v1h-1zM802 280h1v1h-1zM450 281h1v1h-1zM671 281h1v1h-1zM803 281h1v1h-1zM451 282h1v1h-1zM670 282h1v1h-1zM804 282h2v1h-2zM452 283h2v1h-2zM670 283h1v1h-1zM806 283h1v1h-1zM454 284h1v1h-1zM669 284h1v1h-1zM807 284h1v1h-1zM455 285h1v1h-1zM668 285h1v1h-1zM808 285h2v1h-2zM456 286h2v1h-2zM667 286h1v1h-1zM810 286h1v1h-1zM458 287h1v1h-1zM666 287h1v1h-1zM811 287h2v1h-2zM459 288h1v1h-1zM664 288h2v1h-2zM813 288h2v1h-2zM460 289h1v1h-1zM662 289h2v1h-2zM815 289h2v1h-2zM461 290h1v1h-1zM661 290h1v1h-1zM817 290h2v1h-2zM462 291h2v1h-2zM659 291h2v1h-2zM819 291h2v1h-2zM464 292h1v1h-1zM658 292h1v1h-1zM821 292h2v1h-2zM465 293h1v1h-1zM657 293h1v1h-1zM823 293h2v1h-2zM928 293h4v1h-4zM466 294h1v1h-1zM656 294h1v1h-1zM825 294h2v1h-2zM924 294h4v1h-4zM932 294h4v1h-4zM467 295h1v1h-1zM656 295h1v1h-1zM827 295h1v1h-1zM921 295h3v1h-3zM936 295h6v1h-6zM468 296h1v1h-1zM655 296h1v1h-1zM828 296h2v1h-2zM918 296h3v1h-3zM942 296h6v1h-6zM469 297h1v1h-1zM654 297h1v1h-1zM830 297h1v1h-1zM916 297h2v1h-2zM948 297h2v1h-2zM470 298h2v1h-2zM653 298h1v1h-1zM831 298h1v1h-1zM914 298h2v1h-2zM950 298h3v1h-3zM472 299h1v1h-1zM652 299h1v1h-1zM832 299h2v1h-2zM912 299h2v1h-2zM953 299h3v1h-3zM473 300h1v1h-1zM652 300h1v1h-1zM834 300h1v1h-1zM911 300h1v1h-1zM956 300h2v1h-2zM474 301h1v1h-1zM651 301h1v1h-1zM835 301h1v1h-1zM910 301h1v1h-1zM958 301h3v1h-3zM475 302h2v1h-2zM650 302h1v1h-1zM836 302h2v1h-2zM908 302h2v1h-2zM961 302h2v1h-2zM477 303h2v1h-2zM649 303h1v1h-1zM838 303h1v1h-1zM907 303h1v1h-1zM963 303h2v1h-2zM479 304h2v1h-2zM648 304h1v1h-1zM839 304h1v1h-1zM906 304h1v1h-1zM965 304h2v1h-2zM481 305h2v1h-2zM647 305h1v1h-1zM840 305h2v1h-2zM905 305h1v1h-1zM967 305h2v1h-2zM483 306h2v1h-2zM646 306h1v1h-1zM842 306h1v1h-1zM904 306h1v1h-1zM969 306h2v1h-2zM485 307h1v1h-1zM646 307h1v1h-1zM843 307h2v1h-2zM903 307h1v1h-1zM971 307h1v1h-1zM486 308h2v1h-2zM645 308h1v1h-1zM845 308h1v1h-1zM902 308h1v1h-1zM972 308h2v1h-2zM488 309h2v1h-2zM644 309h1v1h-1zM846 309h2v1h-2zM901 309h1v1h-1zM974 309h1v1h-1zM490 310h1v1h-1zM643 310h1v1h-1zM848 310h2v1h-2zM900 310h1v1h-1zM975 310h1v1h-1zM491 311h1v1h-1zM642 311h1v1h-1zM850 311h1v1h-1zM899 311h1v1h-1zM976 311h2v1h-2zM492 312h1v1h-1zM641 312h1v1h-1zM851 312h2v1h-2zM898 312h1v1h-1zM978 312h1v1h-1zM493 313h1v1h-1zM640 313h1v1h-1zM853 313h1v1h-1zM897 313h1v1h-1zM979 313h2v1h-2zM494 314h2v1h-2zM638 314h2v1h-2zM854 314h2v1h-2zM896 314h1v1h-1zM981 314h2v1h-2zM496 315h1v1h-1zM637 315h1v1h-1zM856 315h2v1h-2zM894 315h2v1h-2zM983 315h2v1h-2zM497 316h1v1h-1zM636 316h1v1h-1zM858 316h1v1h-1zM893 316h1v1h-1zM985 316h2v1h-2zM498 317h1v1h-1zM635 317h1v1h-1zM859 317h2v1h-2zM892 317h1v1h-1zM987 317h2v1h-2zM499 318h1v1h-1zM632 318h3v1h-3zM861 318h2v1h-2zM891 318h1v1h-1zM989 318h1v1h-1zM500 319h1v1h-1zM628 319h4v1h-4zM863 319h2v1h-2zM886 319h5v1h-5zM990 319h2v1h-2zM501 320h1v1h-1zM625 320h3v1h-3zM865 320h3v1h-3zM881 320h5v1h-5zM992 320h2v1h-2zM502 321h2v1h-2zM623 321h2v1h-2zM868 321h2v1h-2zM878 321h3v1h-3zM994 321h2v1h-2zM504 322h1v1h-1zM621 322h2v1h-2zM870 322h3v1h-3zM876 322h2v1h-2zM996 322h4v1h-4zM505 323h1v1h-1zM619 323h2v1h-2zM873 323h3v1h-3zM1000 323h3v1h-3zM506 324h1v1h-1zM618 324h1v1h-1zM1003 324h2v1h-2zM507 325h2v1h-2zM616 325h2v1h-2zM1005 325h1v1h-1zM509 326h1v1h-1zM615 326h1v1h-1zM1006 326h2v1h-2zM510 327h2v1h-2zM614 327h1v1h-1zM1008 327h2v1h-2zM512 328h2v1h-2zM612 328h2v1h-2zM1010 328h1v1h-1zM514 329h4v1h-4zM611 329h1v1h-1zM1011 329h1v1h-1zM518 330h6v1h-6zM609 330h2v1h-2zM1012 330h1v1h-1zM524 331h2v1h-2zM607 331h2v1h-2zM1013 331h1v1h-1zM526 332h3v1h-3zM605 332h2v1h-2zM1014 332h1v1h-1zM529 333h2v1h-2zM603 333h2v1h-2zM1015 333h1v1h-1zM531 334h2v1h-2zM601 334h2v1h-2zM1016 334h1v1h-1zM533 335h1v1h-1zM599 335h2v1h-2zM1017 335h1v1h-1zM534 336h2v1h-2zM597 336h2v1h-2zM1018 336h1v1h-1zM536 337h2v1h-2zM595 337h2v1h-2zM1019 337h1v1h-1zM538 338h1v1h-1zM592 338h3v1h-3zM1020 338h1v1h-1zM539 339h2v1h-2zM588 339h4v1h-4zM1021 339h1v1h-1zM541 340h2v1h-2zM585 340h3v1h-3zM1022 340h1v1h-1zM543 341h2v1h-2zM550 341h6v1h-6zM582 341h3v1h-3zM1022 341h1v1h-1zM545 342h5v1h-5zM556 342h4v1h-4zM580 342h2v1h-2zM1023 342h1v1h-1zM560 343h6v1h-6zM574 343h6v1h-6zM1024 343h1v1h-1zM566 344h8v1h-8zM1025 344h1v1h-1zM1026 345h1v1h-1zM1027 346h1v1h-1zM1028 347h1v1h-1zM1029 348h1v1h-1zM1030 349h2v1h-2zM1032 350h1v1h-1zM1033 351h1v1h-1zM1034 352h1v1h-1zM1035 353h1v1h-1zM1036 354h1v1h-1zM1037 355h1v1h-1zM1038 356h2v1h-2zM1088 356h12v1h-12zM1040 357h1v1h-1zM1084 357h4v1h-4zM1100 357h2v1h-2zM1041 358h1v1h-1zM1072 358h12v1h-12zM1102 358h3v1h-3zM1042 359h4v1h-4zM1068 359h4v1h-4zM1105 359h2v1h-2zM1046 360h6v1h-6zM1064 360h4v1h-4zM1107 360h2v1h-2zM1052 361h4v1h-4zM1060 361h4v1h-4zM1109 361h1v1h-1zM1056 362h4v1h-4zM1110 362h2v1h-2zM1112 363h2v1h-2zM1114 364h1v1h-1zM1115 365h1v1h-1zM1116 366h1v1h-1zM1117 367h1v1h-1zM1118 368h2v1h-2zM1120 369h1v1h-1zM1121 370h1v1h-1zM1122 371h1v1h-1zM1123 372h1v1h-1zM1124 373h2v1h-2zM1126 374h1v1h-1zM1127 375h1v1h-1zM1128 376h2v1h-2zM1130 377h1v1h-1zM1131 378h2v1h-2zM1133 379h2v1h-2zM1135 380h2v1h-2zM1137 381h2v1h-2zM1139 382h1v1h-1zM1140 383h1v1h-1zM1141 384h1v1h-1zM1142 385h1v1h-1zM1143 386h1v1h-1zM1144 387h1v1h-1zM1145 388h1v1h-1zM1146 389h1v1h-1zM1147 390h1v1h-1zM1148 391h1v1h-1zM1149 392h1v1h-1zM1150 393h1v1h-1zM1151 394h1v1h-1zM1152 395h1v1h-1zM1153 396h1v1h-1zM1154 397h1v1h-1zM1155 398h1v1h-1zM1155 399h1v1h-1zM1156 400h1v1h-1zM1157 401h1v1h-1zM1158 402h1v1h-1zM1158 403h1v1h-1zM1159 404h1v1h-1zM1160 405h1v1h-1zM1161 406h1v1h-1zM1161 407h1v1h-1zM1162 408h1v1h-1zM1163 409h1v1h-1zM1164 410h1v1h-1zM1165 411h1v1h-1zM1166 412h1v1h-1zM1166 413h1v1h-1zM1167 414h1v1h-1zM1168 415h1v1h-1zM1169 416h1v1h-1zM1170 417h1v1h-1zM1171 418h1v1h-1zM1172 419h1v1h-1zM1172 420h1v1h-1zM1173 421h1v1h-1zM1174 422h1v1h-1zM1175 423h1v1h-1zM1176 424h1v1h-1zM1176 425h1v1h-1zM1177 426h1v1h-1zM1178 427h1v1h-1zM1179 428h1v1h-1zM1180 429h1v1h-1zM1180 430h1v1h-1zM1181 431h1v1h-1zM1182 432h1v1h-1zM1183 433h1v1h-1zM1184 434h1v1h-1zM1184 435h1v1h-1zM1185 436h1v1h-1zM1186 437h1v1h-1zM1187 438h1v1h-1zM1187 439h1v1h-1zM1188 440h1v1h-1zM1189 441h1v1h-1zM1190 442h1v1h-1zM1190 443h1v1h-1zM1191 444h1v1h-1zM1192 445h1v1h-1zM1193 446h1v1h-1zM1193 447h1v1h-1zM1194 448h1v1h-1zM1195 449h1v1h-1zM1196 450h1v1h-1zM1197 451h1v1h-1zM1198 452h1v1h-1zM1199 453h1v1h-1zM1200 454h1v1h-1zM1201 455h1v1h-1zM1202 456h1v1h-1zM1203 457h1v1h-1zM1204 458h1v1h-1zM1205 459h1v1h-1zM1206 460h1v1h-1zM1207 461h1v1h-1zM1208 462h1v1h-1zM1209 463h1v1h-1zM1210 464h1v1h-1zM1211 465h1v1h-1zM1212 466h1v1h-1zM1213 467h1v1h-1zM1214 468h2v1h-2zM1216 469h1v1h-1zM1217 470h1v1h-1zM1218 471h1v1h-1zM1219 472h1v1h-1zM1220 473h1v1h-1zM1221 474h1v1h-1zM1222 475h1v1h-1zM1222 476h1v1h-1zM1223 477h1v1h-1zM1224 478h1v1h-1zM1225 479h1v1h-1zM1226 480h1v1h-1zM1227 481h1v1h-1zM1228 482h2v1h-2zM1230 483h1v1h-1zM1231 484h1v1h-1zM1232 485h2v1h-2zM1234 486h1v1h-1zM1235 487h1v1h-1zM1236 488h1v1h-1zM1237 489h1v1h-1zM1238 490h1v1h-1zM1239 491h1v1h-1zM1240 492h1v1h-1zM1241 493h1v1h-1z" fill="#ff0000" shape-rendering="crispEdges"/>
<path d="M70 79h5v1h-5zM66 80h4v1h-4zM75 80h1v1h-1zM66 81h1v1h-1zM76 81h1v1h-1zM65 82h1v1h-1zM77 82h1v1h-1zM65 83h1v1h-1zM78 83h1v1h-1zM64 84h1v1h-1zM79 84h1v1h-1zM64 85h1v1h-1zM80 85h1v1h-1zM63 86h1v1h-1zM81 86h1v1h-1zM63 87h1v1h-1zM82 87h1v1h-1zM62 88h1v1h-1zM83 88h1v1h-1zM62 89h1v1h-1zM84 89h1v1h-1zM61 90h1v1h-1zM84 90h1v1h-1zM61 91h1v1h-1zM85 91h1v1h-1zM60 92h1v1h-1zM86 92h1v1h-1zM60 93h1v1h-1zM87 93h1v1h-1zM59 94h1v1h-1zM88 94h1v1h-1zM59 95h1v1h-1zM88 95h1v1h-1zM58 96h1v1h-1zM89 96h1v1h-1zM58 97h1v1h-1zM90 97h1v1h-1zM57 98h1v1h-1zM91 98h1v1h-1zM57 99h1v1h-1zM92 99h1v1h-1zM56 100h1v1h-1zM93 100h1v1h-1zM55 101h1v1h-1zM94 101h1v1h-1zM54 102h1v1h-1zM95 102h1v1h-1zM54 103h1v1h-1zM96 103h1v1h-1zM53 104h1v1h-1zM97 104h1v1h-1zM52 105h1v1h-1zM98 105h1v1h-1zM51 106h1v1h-1zM99 106h1v1h-1zM51 107h1v1h-1zM99 107h1v1h-1zM50 108h1v1h-1zM100 108h1v1h-1zM49 109h1v1h-1zM100 109h1v1h-1zM48 110h1v1h-1zM101 110h1v1h-1zM47 111h1v1h-1zM102 111h1v1h-1zM46 112h1v1h-1zM102 112h1v1h-1zM45 113h1v1h-1zM103 113h1v1h-1zM2 114h4v1h-4zM44 114h1v1h-1zM104 114h1v1h-1zM6 115h6v1h-6zM43 115h1v1h-1zM104 115h1v1h-1zM12 116h4v1h-4zM42 116h1v1h-1zM105 116h1v1h-1zM170 116h1v1h-1zM16 117h3v1h-3zM40 117h2v1h-2zM105 117h1v1h-1zM168 117h2v1h-2zM171 117h2v1h-2zM19 118h2v1h-2zM39 118h1v1h-1zM106 118h1v1h-1zM167 118h1v1h-1zM173 118h1v1h-1zM21 119h1v1h-1zM38 119h1v1h-1zM107 119h1v1h-1zM166 119h1v1h-1zM174 119h2v1h-2zM22 120h2v1h-2zM36 120h2v1h-2zM108 120h2v1h-2zM153 120h3v1h-3zM164 120h2v1h-2zM176 120h2v1h-2zM24 121h2v1h-2zM35 121h1v1h-1zM110 121h1v1h-1zM151 121h2v1h-2zM156 121h4v1h-4zM163 121h1v1h-1zM178 121h1v1h-1zM26 122h9v1h-9zM111 122h1v1h-1zM149 122h2v1h-2zM160 122h3v1h-3zM179 122h2v1h-2zM112 123h2v1h-2zM118 123h5v1h-5zM147 123h2v1h-2zM181 123h1v1h-1zM114 124h4v1h-4zM123 124h2v1h-2zM145 124h2v1h-2zM182 124h2v1h-2zM125 125h1v1h-1zM142 125h3v1h-3zM184 125h2v1h-2zM126 126h2v1h-2zM140 126h2v1h-2zM186 126h4v1h-4zM198 126h5v1h-5zM128 127h2v1h-2zM134 127h6v1h-6zM190 127h8v1h-8zM203 127h1v1h-1zM130 128h4v1h-4zM204 128h1v1h-1zM205 129h1v1h-1zM206 130h2v1h-2zM208 131h1v1h-1zM209 132h1v1h-1zM210 133h1v1h-1zM211 134h1v1h-1zM212 135h1v1h-1zM213 136h1v1h-1zM214 137h1v1h-1zM215 138h1v1h-1zM216 139h1v1h-1zM217 140h1v1h-1zM218 141h1v1h-1zM219 142h1v1h-1zM219 143h1v1h-1zM220 144h1v1h-1zM220 145h1v1h-1zM221 146h1v1h-1zM222 147h1v1h-1zM222 148h1v1h-1zM223 149h1v1h-1zM224 150h1v1h-1zM224 151h1v1h-1zM225 152h1v1h-1zM225 153h1v1h-1zM226 154h1v1h-1zM226 155h1v1h-1zM227 156h1v1h-1zM227 157h1v1h-1zM228 158h1v1h-1zM228 159h1v1h-1zM229 160h1v1h-1zM229 161h1v1h-1zM229 162h1v1h-1zM230 163h1v1h-1zM230 164h1v1h-1zM231 165h1v1h-1zM231 166h1v1h-1zM231 167h1v1h-1zM232 168h1v1h-1zM232 169h1v1h-1zM233 170h1v1h-1zM233 171h1v1h-1zM234 172h1v1h-1zM234 173h1v1h-1zM235 174h1v1h-1zM235 175h1v1h-1zM236 176h1v1h-1zM236 177h1v1h-1zM237 178h1v1h-1zM237 179h1v1h-1zM238 180h1v1h-1zM239 181h1v1h-1zM239 182h1v1h-1zM240 183h1v1h-1zM240 184h1v1h-1zM241 185h1v1h-1zM241 186h1v1h-1zM242 187h1v1h-1zM243 188h1v1h-1zM243 189h1v1h-1zM244 190h1v1h-1zM245 191h1v1h-1zM246 192h1v1h-1zM246 193h1v1h-1zM247 194h1v1h-1zM248 195h1v1h-1zM249 196h1v1h-1zM249 197h1v1h-1zM250 198h1v1h-1zM251 199h2v1h-2zM253 200h1v1h-1zM254 201h2v1h-2zM256 202h2v1h-2zM258 203h1v1h-1zM259 204h2v1h-2zM261 205h2v1h-2zM263 206h2v1h-2zM278 206h5v1h-5zM305 206h10v1h-10zM265 207h13v1h-13zM283 207h2v1h-2zM303 207h2v1h-2zM314 207h1v1h-1zM697 207h2v1h-2zM285 208h2v1h-2zM301 208h2v1h-2zM315 208h1v1h-1zM695 208h2v1h-2zM699 208h2v1h-2zM287 209h2v1h-2zM299 209h2v1h-2zM315 209h1v1h-1zM693 209h2v1h-2zM701 209h1v1h-1zM289 210h10v1h-10zM316 210h1v1h-1zM691 210h2v1h-2zM702 210h2v1h-2zM316 211h1v1h-1zM690 211h1v1h-1zM704 211h2v1h-2zM317 212h1v1h-1zM688 212h2v1h-2zM706 212h1v1h-1zM317 213h1v1h-1zM687 213h1v1h-1zM707 213h1v1h-1zM318 214h1v1h-1zM686 214h1v1h-1zM707 214h1v1h-1zM318 215h1v1h-1zM684 215h2v1h-2zM708 215h1v1h-1zM318 216h1v1h-1zM683 216h1v1h-1zM709 216h1v1h-1zM319 217h1v1h-1zM682 217h1v1h-1zM710 217h1v1h-1zM319 218h1v1h-1zM681 218h1v1h-1zM710 218h1v1h-1zM320 219h1v1h-1zM680 219h1v1h-1zM711 219h1v1h-1zM320 220h1v1h-1zM679 220h1v1h-1zM712 220h1v1h-1zM321 221h1v1h-1zM678 221h1v1h-1zM713 221h1v1h-1zM321 222h1v1h-1zM678 222h1v1h-1zM713 222h1v1h-1zM322 223h1v1h-1zM677 223h1v1h-1zM714 223h1v1h-1zM322 224h1v1h-1zM676 224h1v1h-1zM715 224h1v1h-1zM323 225h1v1h-1zM675 225h1v1h-1zM716 225h1v1h-1zM324 226h1v1h-1zM674 226h1v1h-1zM717 226h1v1h-1zM325 227h1v1h-1zM674 227h1v1h-1zM718 227h2v1h-2zM326 228h1v1h-1zM673 228h1v1h-1zM720 228h1v1h-1zM326 229h1v1h-1zM673 229h1v1h-1zM721 229h1v1h-1zM327 230h1v1h-1zM672 230h1v1h-1zM722 230h1v1h-1zM328 231h1v1h-1zM672 231h1v1h-1zM723 231h1v1h-1zM329 232h1v1h-1zM334 232h6v1h-6zM361 232h3v1h-3zM672 232h1v1h-1zM724 232h1v1h-1zM330 233h4v1h-4zM340 233h4v1h-4zM359 233h2v1h-2zM364 233h2v1h-2zM671 233h1v1h-1zM725 233h1v1h-1zM344 234h4v1h-4zM357 234h2v1h-2zM366 234h3v1h-3zM671 234h1v1h-1zM726 234h2v1h-2zM348 235h4v1h-4zM355 235h2v1h-2zM369 235h2v1h-2zM671 235h1v1h-1zM728 235h1v1h-1zM352 236h3v1h-3zM370 236h1v1h-1zM670 236h1v1h-1zM729 236h1v1h-1zM371 237h1v1h-1zM670 237h1v1h-1zM730 237h1v1h-1zM371 238h1v1h-1zM669 238h1v1h-1zM731 238h1v1h-1zM372 239h1v1h-1zM669 239h1v1h-1zM731 239h1v1h-1zM372 240h1v1h-1zM669 240h1v1h-1zM732 240h1v1h-1zM373 241h1v1h-1zM668 241h1v1h-1zM732 241h1v1h-1zM930 241h1v1h-1zM373 242h1v1h-1zM668 242h1v1h-1zM733 242h1v1h-1zM929 242h2v1h-2zM374 243h1v1h-1zM668 243h1v1h-1zM733 243h1v1h-1zM929 243h1v1h-1zM931 243h1v1h-1zM374 244h1v1h-1zM667 244h1v1h-1zM734 244h1v1h-1zM928 244h1v1h-1zM931 244h1v1h-1zM375 245h1v1h-1zM667 245h1v1h-1zM735 245h1v1h-1zM927 245h1v1h-1zM932 245h1v1h-1zM375 246h1v1h-1zM666 246h1v1h-1zM735 246h1v1h-1zM927 246h1v1h-1zM932 246h1v1h-1zM376 247h1v1h-1zM666 247h1v1h-1zM736 247h1v1h-1zM926 247h1v1h-1zM932 247h1v1h-1zM376 248h1v1h-1zM666 248h1v1h-1zM736 248h1v1h-1zM925 248h1v1h-1zM933 248h1v1h-1zM377 249h1v1h-1zM665 249h1v1h-1zM737 249h1v1h-1zM925 249h1v1h-1zM933 249h1v1h-1zM377 250h1v1h-1zM665 250h1v1h-1zM737 250h1v1h-1zM924 250h1v1h-1zM933 250h1v1h-1zM378 251h1v1h-1zM664 251h1v1h-1zM738 251h1v1h-1zM923 251h1v1h-1zM934 251h1v1h-1zM378 252h1v1h-1zM664 252h1v1h-1zM739 252h2v1h-2zM923 252h1v1h-1zM934 252h1v1h-1zM379 253h1v1h-1zM663 253h1v1h-1zM741 253h2v1h-2zM922 253h1v1h-1zM935 253h1v1h-1zM379 254h1v1h-1zM663 254h1v1h-1zM743 254h2v1h-2zM921 254h1v1h-1zM935 254h1v1h-1zM380 255h1v1h-1zM662 255h1v1h-1zM745 255h5v1h-5zM920 255h1v1h-1zM935 255h1v1h-1zM380 256h1v1h-1zM662 256h1v1h-1zM750 256h5v1h-5zM919 256h1v1h-1zM936 256h1v1h-1zM381 257h1v1h-1zM662 257h1v1h-1zM755 257h1v1h-1zM918 257h1v1h-1zM936 257h1v1h-1zM382 258h1v1h-1zM661 258h1v1h-1zM756 258h1v1h-1zM918 258h1v1h-1zM936 258h1v1h-1zM382 259h1v1h-1zM661 259h1v1h-1zM757 259h1v1h-1zM917 259h1v1h-1zM937 259h1v1h-1zM383 260h1v1h-1zM660 260h1v1h-1zM758 260h1v1h-1zM916 260h1v1h-1zM937 260h1v1h-1zM384 261h1v1h-1zM660 261h1v1h-1zM758 261h1v1h-1zM915 261h1v1h-1zM938 261h1v1h-1zM384 262h1v1h-1zM659 262h1v1h-1zM759 262h1v1h-1zM914 262h1v1h-1zM938 262h1v1h-1zM385 263h1v1h-1zM659 263h1v1h-1zM760 263h1v1h-1zM914 263h1v1h-1zM938 263h1v1h-1zM385 264h1v1h-1zM658 264h1v1h-1zM761 264h1v1h-1zM913 264h1v1h-1zM939 264h1v1h-1zM386 265h1v1h-1zM658 265h1v1h-1zM762 265h1v1h-1zM913 265h1v1h-1zM939 265h1v1h-1zM387 266h1v1h-1zM658 266h1v1h-1zM762 266h1v1h-1zM912 266h1v1h-1zM940 266h1v1h-1zM388 267h1v1h-1zM657 267h1v1h-1zM763 267h1v1h-1zM912 267h1v1h-1zM940 267h1v1h-1zM389 268h1v1h-1zM657 268h1v1h-1zM763 268h1v1h-1zM911 268h1v1h-1zM940 268h1v1h-1zM390 269h1v1h-1zM656 269h1v1h-1zM764 269h1v1h-1zM911 269h1v1h-1zM941 269h1v1h-1zM390 270h1v1h-1zM656 270h1v1h-1zM764 270h1v1h-1zM910 270h1v1h-1zM941 270h1v1h-1zM391 271h1v1h-1zM655 271h1v1h-1zM765 271h1v1h-1zM910 271h1v1h-1zM941 271h1v1h-1zM392 272h1v1h-1zM655 272h1v1h-1zM765 272h1v1h-1zM910 272h1v1h-1zM942 272h1v1h-1zM393 273h1v1h-1zM654 273h1v1h-1zM766 273h1v1h-1zM909 273h1v1h-1zM942 273h1v1h-1zM394 274h1v1h-1zM654 274h1v1h-1zM766 274h1v1h-1zM909 274h1v1h-1zM943 274h1v1h-1zM395 275h1v1h-1zM653 275h1v1h-1zM766 275h1v1h-1zM908 275h1v1h-1zM943 275h1v1h-1zM396 276h1v1h-1zM653 276h1v1h-1zM767 276h1v1h-1zM908 276h1v1h-1zM943 276h1v1h-1zM397 277h1v1h-1zM652 277h1v1h-1zM767 277h1v1h-1zM907 277h1v1h-1zM944 277h1v1h-1zM398 278h1v1h-1zM652 278h1v1h-1zM768 278h1v1h-1zM907 278h1v1h-1zM944 278h1v1h-1zM398 279h1v1h-1zM651 279h1v1h-1zM768 279h1v1h-1zM906 279h1v1h-1zM944 279h1v1h-1zM399 280h1v1h-1zM651 280h1v1h-1zM769 280h1v1h-1zM906 280h1v1h-1zM945 280h1v1h-1zM400 281h1v1h-1zM650 281h1v1h-1zM769 281h1v1h-1zM906 281h1v1h-1zM945 281h1v1h-1zM401 282h1v1h-1zM649 282h1v1h-1zM770 282h1v1h-1zM905 282h1v1h-1zM946 282h1v1h-1zM402 283h1v1h-1zM649 283h1v1h-1zM770 283h1v1h-1zM905 283h1v1h-1zM946 283h1v1h-1zM403 284h1v1h-1zM648 284h1v1h-1zM771 284h1v1h-1zM904 284h1v1h-1zM946 284h1v1h-1zM404 285h2v1h-2zM648 285h1v1h-1zM771 285h1v1h-1zM904 285h1v1h-1zM947 285h1v1h-1zM406 286h1v1h-1zM647 286h1v1h-1zM772 286h1v1h-1zM904 286h1v1h-1zM947 286h1v1h-1zM407 287h1v1h-1zM647 287h1v1h-1zM772 287h1v1h-1zM903 287h1v1h-1zM947 287h1v1h-1zM408 288h2v1h-2zM646 288h1v1h-1zM773 288h1v1h-1zM903 288h1v1h-1zM947 288h1v1h-1zM410 289h1v1h-1zM645 289h1v1h-1zM774 289h1v1h-1zM903 289h1v1h-1zM948 289h1v1h-1zM411 290h2v1h-2zM645 290h1v1h-1zM774 290h1v1h-1zM902 290h1v1h-1zM948 290h1v1h-1zM413 291h2v1h-2zM644 291h1v1h-1zM775 291h1v1h-1zM902 291h1v1h-1zM948 291h1v1h-1zM415 292h2v1h-2zM644 292h1v1h-1zM776 292h1v1h-1zM901 292h1v1h-1zM948 292h1v1h-1zM417 293h2v1h-2zM643 293h1v1h-1zM776 293h1v1h-1zM901 293h1v1h-1zM949 293h1v1h-1zM419 294h1v1h-1zM643 294h1v1h-1zM777 294h1v1h-1zM901 294h1v1h-1zM949 294h1v1h-1zM420 295h1v1h-1zM642 295h1v1h-1zM777 295h1v1h-1zM900 295h1v1h-1zM949 295h1v1h-1zM421 296h1v1h-1zM641 296h1v1h-1zM778 296h1v1h-1zM900 296h1v1h-1zM950 296h1v1h-1zM422 297h2v1h-2zM640 297h1v1h-1zM779 297h1v1h-1zM900 297h1v1h-1zM950 297h1v1h-1zM424 298h1v1h-1zM640 298h1v1h-1zM779 298h1v1h-1zM899 298h1v1h-1zM950 298h1v1h-1zM425 299h1v1h-1zM639 299h1v1h-1zM780 299h1v1h-1zM899 299h1v1h-1zM950 299h1v1h-1zM426 300h1v1h-1zM638 300h1v1h-1zM780 300h1v1h-1zM898 300h1v1h-1zM951 300h1v1h-1zM427 301h2v1h-2zM456 301h3v1h-3zM637 301h1v1h-1zM781 301h1v1h-1zM898 301h1v1h-1zM951 301h1v1h-1zM429 302h1v1h-1zM452 302h4v1h-4zM459 302h2v1h-2zM636 302h1v1h-1zM781 302h1v1h-1zM898 302h1v1h-1zM951 302h1v1h-1zM430 303h2v1h-2zM449 303h3v1h-3zM461 303h2v1h-2zM636 303h1v1h-1zM782 303h1v1h-1zM897 303h1v1h-1zM952 303h1v1h-1zM432 304h2v1h-2zM447 304h2v1h-2zM463 304h2v1h-2zM635 304h1v1h-1zM782 304h1v1h-1zM897 304h1v1h-1zM952 304h1v1h-1zM434 305h2v1h-2zM445 305h2v1h-2zM465 305h2v1h-2zM616 305h4v1h-4zM632 305h3v1h-3zM783 305h1v1h-1zM896 305h1v1h-1zM952 305h1v1h-1zM436 306h4v1h-4zM443 306h2v1h-2zM467 306h1v1h-1zM612 306h4v1h-4zM620 306h4v1h-4zM628 306h4v1h-4zM783 306h1v1h-1zM896 306h1v1h-1zM952 306h1v1h-1zM440 307h3v1h-3zM468 307h1v1h-1zM601 307h11v1h-11zM624 307h4v1h-4zM784 307h1v1h-1zM830 307h6v1h-6zM895 307h1v1h-1zM953 307h1v1h-1zM469 308h1v1h-1zM599 308h2v1h-2zM784 308h1v1h-1zM826 308h4v1h-4zM836 308h4v1h-4zM895 308h1v1h-1zM953 308h1v1h-1zM470 309h1v1h-1zM586 309h2v1h-2zM597 309h2v1h-2zM785 309h1v1h-1zM824 309h2v1h-2zM840 309h3v1h-3zM894 309h1v1h-1zM953 309h1v1h-1zM471 310h1v1h-1zM585 310h1v1h-1zM588 310h4v1h-4zM595 310h2v1h-2zM785 310h1v1h-1zM823 310h1v1h-1zM843 310h1v1h-1zM894 310h1v1h-1zM953 310h1v1h-1zM472 311h1v1h-1zM584 311h1v1h-1zM592 311h3v1h-3zM786 311h1v1h-1zM822 311h1v1h-1zM843 311h1v1h-1zM894 311h1v1h-1zM954 311h1v1h-1zM473 312h1v1h-1zM584 312h1v1h-1zM786 312h1v1h-1zM820 312h2v1h-2zM844 312h1v1h-1zM893 312h1v1h-1zM954 312h1v1h-1zM474 313h1v1h-1zM583 313h1v1h-1zM787 313h1v1h-1zM819 313h1v1h-1zM845 313h1v1h-1zM893 313h1v1h-1zM954 313h1v1h-1zM475 314h1v1h-1zM582 314h1v1h-1zM787 314h1v1h-1zM818 314h1v1h-1zM846 314h1v1h-1zM892 314h1v1h-1zM955 314h1v1h-1zM476 315h1v1h-1zM581 315h1v1h-1zM788 315h1v1h-1zM816 315h2v1h-2zM846 315h1v1h-1zM892 315h1v1h-1zM955 315h1v1h-1zM477 316h1v1h-1zM580 316h1v1h-1zM788 316h1v1h-1zM815 316h1v1h-1zM847 316h1v1h-1zM891 316h1v1h-1zM955 316h1v1h-1zM478 317h1v1h-1zM580 317h1v1h-1zM789 317h1v1h-1zM814 317h1v1h-1zM848 317h1v1h-1zM891 317h1v1h-1zM955 317h1v1h-1zM479 318h1v1h-1zM579 318h1v1h-1zM790 318h1v1h-1zM812 318h2v1h-2zM849 318h1v1h-1zM890 318h1v1h-1zM956 318h1v1h-1zM480 319h1v1h-1zM578 319h1v1h-1zM790 319h1v1h-1zM811 319h1v1h-1zM849 319h1v1h-1zM888 319h3v1h-3zM956 319h1v1h-1zM481 320h1v1h-1zM577 320h1v1h-1zM791 320h1v1h-1zM810 320h1v1h-1zM850 320h1v1h-1zM884 320h4v1h-4zM956 320h1v1h-1zM482 321h1v1h-1zM577 321h1v1h-1zM792 321h1v1h-1zM809 321h1v1h-1zM851 321h1v1h-1zM882 321h2v1h-2zM957 321h1v1h-1zM483 322h1v1h-1zM576 322h1v1h-1zM792 322h1v1h-1zM809 322h1v1h-1zM852 322h2v1h-2zM881 322h1v1h-1zM957 322h1v1h-1zM483 323h1v1h-1zM576 323h1v1h-1zM793 323h1v1h-1zM808 323h1v1h-1zM854 323h1v1h-1zM880 323h1v1h-1zM957 323h1v1h-1zM484 324h1v1h-1zM575 324h1v1h-1zM793 324h1v1h-1zM807 324h1v1h-1zM855 324h1v1h-1zM879 324h1v1h-1zM958 324h1v1h-1zM485 325h1v1h-1zM574 325h1v1h-1zM794 325h1v1h-1zM807 325h1v1h-1zM856 325h2v1h-2zM878 325h1v1h-1zM958 325h1v1h-1zM485 326h1v1h-1zM574 326h1v1h-1zM795 326h1v1h-1zM806 326h1v1h-1zM858 326h2v1h-2zM878 326h1v1h-1zM958 326h1v1h-1zM486 327h1v1h-1zM573 327h1v1h-1zM796 327h1v1h-1zM805 327h1v1h-1zM860 327h2v1h-2zM877 327h1v1h-1zM958 327h1v1h-1zM487 328h1v1h-1zM572 328h1v1h-1zM797 328h1v1h-1zM805 328h1v1h-1zM862 328h3v1h-3zM876 328h1v1h-1zM959 328h1v1h-1zM487 329h1v1h-1zM572 329h1v1h-1zM798 329h2v1h-2zM804 329h1v1h-1zM865 329h5v1h-5zM875 329h1v1h-1zM959 329h1v1h-1zM488 330h1v1h-1zM571 330h1v1h-1zM800 330h1v1h-1zM803 330h1v1h-1zM870 330h5v1h-5zM959 330h1v1h-1zM489 331h1v1h-1zM571 331h1v1h-1zM801 331h1v1h-1zM803 331h1v1h-1zM960 331h1v1h-1zM489 332h1v1h-1zM570 332h1v1h-1zM802 332h1v1h-1zM960 332h1v1h-1zM490 333h1v1h-1zM569 333h1v1h-1zM960 333h1v1h-1zM491 334h1v1h-1zM568 334h1v1h-1zM961 334h1v1h-1zM491 335h1v1h-1zM566 335h2v1h-2zM961 335h1v1h-1zM492 336h1v1h-1zM565 336h1v1h-1zM961 336h1v1h-1zM492 337h1v1h-1zM564 337h1v1h-1zM961 337h1v1h-1zM493 338h1v1h-1zM563 338h1v1h-1zM962 338h1v1h-1zM493 339h1v1h-1zM560 339h3v1h-3zM962 339h1v1h-1zM1032 339h3v1h-3zM494 340h1v1h-1zM556 340h4v1h-4zM962 340h1v1h-1zM1028 340h4v1h-4zM1035 340h2v1h-2zM494 341h1v1h-1zM554 341h2v1h-2zM963 341h1v1h-1zM1026 341h2v1h-2zM1037 341h1v1h-1zM495 342h1v1h-1zM553 342h1v1h-1zM963 342h1v1h-1zM1024 342h2v1h-2zM1038 342h2v1h-2zM495 343h1v1h-1zM553 343h1v1h-1zM963 343h1v1h-1zM1023 343h1v1h-1zM1040 343h2v1h-2zM496 344h1v1h-1zM552 344h1v1h-1zM964 344h1v1h-1zM1022 344h1v1h-1zM1042 344h1v1h-1zM496 345h1v1h-1zM552 345h1v1h-1zM964 345h1v1h-1zM1020 345h2v1h-2zM1043 345h1v1h-1zM497 346h1v1h-1zM551 346h1v1h-1zM964 346h1v1h-1zM1019 346h1v1h-1zM1044 346h1v1h-1zM497 347h1v1h-1zM550 347h1v1h-1zM965 347h1v1h-1zM1018 347h1v1h-1zM1045 347h1v1h-1zM498 348h1v1h-1zM550 348h1v1h-1zM965 348h1v1h-1zM1018 348h1v1h-1zM1046 348h2v1h-2zM499 349h1v1h-1zM549 349h1v1h-1zM965 349h1v1h-1zM1017 349h1v1h-1zM1048 349h1v1h-1zM500 350h1v1h-1zM548 350h1v1h-1zM966 350h1v1h-1zM1017 350h1v1h-1zM1049 350h1v1h-1zM500 351h1v1h-1zM548 351h1v1h-1zM966 351h1v1h-1zM1016 351h1v1h-1zM1050 351h1v1h-1zM501 352h1v1h-1zM547 352h1v1h-1zM966 352h1v1h-1zM1016 352h1v1h-1zM1051 352h1v1h-1zM502 353h1v1h-1zM547 353h1v1h-1zM967 353h1v1h-1zM1015 353h1v1h-1zM1052 353h1v1h-1zM503 354h1v1h-1zM545 354h2v1h-2zM967 354h1v1h-1zM1015 354h1v1h-1zM1053 354h1v1h-1zM504 355h1v1h-1zM543 355h2v1h-2zM967 355h1v1h-1zM1014 355h1v1h-1zM1054 355h2v1h-2zM1065 355h11v1h-11zM504 356h1v1h-1zM541 356h2v1h-2zM968 356h1v1h-1zM1014 356h1v1h-1zM1056 356h1v1h-1zM1062 356h3v1h-3zM1076 356h2v1h-2zM505 357h1v1h-1zM539 357h2v1h-2zM968 357h1v1h-1zM1013 357h1v1h-1zM1057 357h1v1h-1zM1060 357h2v1h-2zM1078 357h3v1h-3zM506 358h1v1h-1zM534 358h5v1h-5zM968 358h1v1h-1zM1013 358h1v1h-1zM1058 358h2v1h-2zM1081 358h2v1h-2zM507 359h2v1h-2zM521 359h13v1h-13zM969 359h1v1h-1zM1012 359h1v1h-1zM1083 359h1v1h-1zM509 360h2v1h-2zM518 360h3v1h-3zM969 360h1v1h-1zM1012 360h1v1h-1zM1084 360h1v1h-1zM511 361h2v1h-2zM516 361h2v1h-2zM969 361h1v1h-1zM1011 361h1v1h-1zM1085 361h1v1h-1zM513 362h3v1h-3zM970 362h1v1h-1zM1011 362h1v1h-1zM1086 362h1v1h-1zM970 363h1v1h-1zM1010 363h1v1h-1zM1087 363h1v1h-1zM971 364h1v1h-1zM1009 364h1v1h-1zM1088 364h1v1h-1zM971 365h1v1h-1zM1009 365h1v1h-1zM1089 365h1v1h-1zM972 366h1v1h-1zM1008 366h1v1h-1zM1090 366h1v1h-1zM972 367h1v1h-1zM1008 367h1v1h-1zM1091 367h2v1h-2zM973 368h1v1h-1zM1007 368h1v1h-1zM1093 368h2v1h-2zM974 369h1v1h-1zM1006 369h1v1h-1zM1095 369h2v1h-2zM974 370h1v1h-1zM1006 370h1v1h-1zM1097 370h2v1h-2zM975 371h1v1h-1zM1005 371h1v1h-1zM1099 371h1v1h-1zM976 372h1v1h-1zM1004 372h1v1h-1zM1099 372h1v1h-1zM976 373h1v1h-1zM1004 373h1v1h-1zM1100 373h1v1h-1zM977 374h1v1h-1zM1003 374h1v1h-1zM1101 374h1v1h-1zM977 375h1v1h-1zM1003 375h1v1h-1zM1101 375h1v1h-1zM978 376h1v1h-1zM1002 376h1v1h-1zM1102 376h1v1h-1zM979 377h1v1h-1zM1001 377h1v1h-1zM1103 377h1v1h-1zM979 378h1v1h-1zM1000 378h1v1h-1zM1103 378h1v1h-1zM980 379h1v1h-1zM999 379h1v1h-1zM1104 379h1v1h-1zM981 380h1v1h-1zM998 380h1v1h-1zM1105 380h1v1h-1zM981 381h1v1h-1zM997 381h1v1h-1zM1105 381h1v1h-1zM982 382h1v1h-1zM996 382h1v1h-1zM1106 382h1v1h-1zM983 383h1v1h-1zM995 383h1v1h-1zM1107 383h1v1h-1zM983 384h1v1h-1zM993 384h2v1h-2zM1108 384h1v1h-1zM984 385h1v1h-1zM991 385h2v1h-2zM1108 385h1v1h-1zM985 386h1v1h-1zM989 386h2v1h-2zM1109 386h1v1h-1zM985 387h1v1h-1zM987 387h2v1h-2zM1110 387h1v1h-1zM986 388h1v1h-1zM1111 388h1v1h-1zM1112 389h1v1h-1zM1112 390h1v1h-1zM1113 391h1v1h-1zM1114 392h1v1h-1zM1115 393h1v1h-1zM1116 394h1v1h-1zM1117 395h1v1h-1zM1118 396h2v1h-2zM1120 397h1v1h-1zM1121 398h1v1h-1zM1122 399h1v1h-1zM1123 400h2v1h-2zM1125 401h1v1h-1zM1126 402h2v1h-2zM1128 403h2v1h-2zM1130 404h1v1h-1zM1131 405h1v1h-1zM1132 406h1v1h-1zM1133 407h1v1h-1zM1134 408h2v1h-2zM1136 409h1v1h-1zM1137 410h1v1h-1zM1138 411h1v1h-1zM1139 412h1v1h-1zM1140 413h1v1h-1zM1140 414h1v1h-1zM1141 415h1v1h-1zM1142 416h1v1h-1zM1143 417h1v1h-1zM1144 418h1v1h-1zM1144 419h1v1h-1zM1145 420h1v1h-1zM1146 421h1v1h-1zM1146 422h1v1h-1zM1147 423h1v1h-1zM1147 424h1v1h-1zM1148 425h1v1h-1zM1148 426h1v1h-1zM1149 427h1v1h-1zM1149 428h1v1h-1zM1150 429h1v1h-1zM1150 430h1v1h-1zM1151 431h1v1h-1zM1151 432h1v1h-1zM1152 433h1v1h-1zM1152 434h1v1h-1zM1153 435h1v1h-1zM1153 436h1v1h-1zM1154 437h1v1h-1zM1154 438h1v1h-1zM1154 439h1v1h-1zM1155 440h1v1h-1zM1155 441h1v1h-1zM1156 442h1v1h-1zM1156 443h1v1h-1zM1157 444h1v1h-1zM1157 445h1v1h-1zM1158 446h1v1h-1zM1158 447h1v1h-1zM1159 448h1v1h-1zM1159 449h1v1h-1zM1160 450h1v1h-1zM1160 451h1v1h-1zM1161 452h1v1h-1zM1161 453h1v1h-1zM1162 454h1v1h-1zM1162 455h1v1h-1zM1163 456h1v1h-1zM1163 457h1v1h-1zM1164 458h1v1h-1zM1164 459h1v1h-1zM1165 460h1v1h-1zM1165 461h1v1h-1zM1166 462h1v1h-1zM1166 463h1v1h-1zM1167 464h1v1h-1zM1167 465h1v1h-1zM1168 466h1v1h-1zM1168 467h1v1h-1zM1169 468h1v1h-1zM1169 469h1v1h-1zM1170 470h1v1h-1zM1171 471h1v1h-1zM1171 472h1v1h-1zM1172 473h1v1h-1zM1172 474h1v1h-1zM1173 475h1v1h-1zM1173 476h1v1h-1zM1174 477h1v1h-1zM1175 478h1v1h-1zM1175 479h1v1h-1zM1176 480h1v1h-1zM1176 481h1v1h-1zM1177 482h1v1h-1zM1177 483h1v1h-1zM1178 484h1v1h-1zM1179 485h1v1h-1zM1180 486h2v1h-2zM1182 487h1v1h-1zM1183 488h1v1h-1zM1184 489h2v1h-2zM1186 490h1v1h-1zM1187 491h1v1h-1zM1188 492h1v1h-1zM1189 493h1v1h-1zM1190 494h1v1h-1zM1190 495h1v1h-1zM1191 496h1v1h-1zM1192 497h1v1h-1zM1193 498h1v1h-1zM1194 499h9v1h-9zM1203 500h2v1h-2zM1205 501h2v1h-2zM1207 502h2v1h-2zM1209 503h3v1h-3zM1212 504h4v1h-4zM1216 505h3v1h-3zM1219 506h1v1h-1zM1220 507h1v1h-1zM1234 507h1v1h-1zM1221 508h1v1h-1zM1232 508h2v1h-2zM1235 508h2v1h-2zM1222 509h2v1h-2zM1230 509h2v1h-2zM1237 509h2v1h-2zM1224 510h1v1h-1zM1229 510h1v1h-1zM1239 510h2v1h-2zM1225 511h1v1h-1zM1227 511h2v1h-2zM1241 511h1v1h-1zM1226 512h1v1h-1z" fill="#ffa500" shape-rendering="crispEdges"/>
</g>
<g shape-rendering="crispEdges">
<rect x="2" y="249" width="1576" height="2" fill="#ff0000"/>
<rect x="2" y="326" width="1576" height="2" fill="#ff0000"/>
<rect x="2" y="415" width="1576" height="2" fill="#00ff00"/>
<rect x="2" y="486" width="1576" height="2" fill="#0000ff"/>
<rect x="2" y="535" width="1576" height="2" fill="#0000ff"/>
</g>
</g>
<g shape-rendering="crispEdges">
<rect x="1" y="247" width="6" height="6" fill="#ff0000"/><rect x="3" y="249" width="2" height="2" fill="#fff"/>
<rect x="1572" y="247" width="6" height="6" fill="#ff0000"/><rect x="1574" y="249" width="2" height="2" fill="#fff"/>
<rect x="1578" y="249" width="1" height="2" fill="#ff0000"/>
<rect x="1" y="324" width="6" height="6" fill="#ff0000"/><rect x="3" y="326" width="2" height="2" fill="#fff"/>
<rect x="1572" y="324" width="6" height="6" fill="#ff0000"/><rect x="1574" y="326" width="2" height="2" fill="#fff"/>
<rect x="1578" y="326" width="1" height="2" fill="#ff0000"/>
<rect x="1" y="413" width="6" height="6" fill="#00ff00"/><rect x="3" y="415" width="2" height="2" fill="#fff"/>
<rect x="1572" y="413" width="6" height="6" fill="#00ff00"/><rect x="1574" y="415" width="2" height="2" fill="#fff"/>
<rect x="1578" y="415" width="1" height="2" fill="#00ff00"/>
<rect x="1" y="484" width="6" height="6" fill="#0000ff"/><rect x="3" y="486" width="2" height="2" fill="#fff"/>
<rect x="1572" y="484" width="6" height="6" fill="#0000ff"/><rect x="1574" y="486" width="2" height="2" fill="#fff"/>
<rect x="1578" y="486" width="1" height="2" fill="#0000ff"/>
<rect x="1" y="533" width="6" height="6" fill="#0000ff"/><rect x="3" y="535" width="2" height="2" fill="#fff"/>
<rect x="1572" y="533" width="6" height="6" fill="#0000ff"/><rect x="1574" y="535" width="2" height="2" fill="#fff"/>
<rect x="1578" y="535" width="1" height="2" fill="#0000ff"/>
</g>
<polygon points="1257,29 1266,29 1261.5,34" fill="#c0c0c0"/>
<polygon points="5,35 12,35 8.5,39" fill="#000"/>
<text x="16.85" y="40" font-size="10" fill="#000" stroke="#000" stroke-width="0.1" textLength="65.37" lengthAdjust="spacingAndGlyphs" >USDCAD,Daily</text>
<text x="88.90" y="40" font-size="10" fill="#000" stroke="#000" stroke-width="0.1" textLength="140.97" lengthAdjust="spacingAndGlyphs" >1.27590 1.27886 1.27268 1.27374</text>
<g shape-rendering="crispEdges">
<rect x="1579" y="57" width="2" height="1" fill="#000"/>
<rect x="1579" y="90" width="2" height="1" fill="#000"/>
<rect x="1579" y="123" width="2" height="1" fill="#000"/>
<rect x="1579" y="156" width="2" height="1" fill="#000"/>
<rect x="1579" y="189" width="2" height="1" fill="#000"/>
<rect x="1579" y="222" width="2" height="1" fill="#000"/>
<rect x="1579" y="255" width="2" height="1" fill="#000"/>
<rect x="1579" y="288" width="2" height="1" fill="#000"/>
<rect x="1579" y="321" width="2" height="1" fill="#000"/>
<rect x="1579" y="354" width="2" height="1" fill="#000"/>
<rect x="1579" y="387" width="2" height="1" fill="#000"/>
<rect x="1579" y="420" width="2" height="1" fill="#000"/>
<rect x="1579" y="453" width="2" height="1" fill="#000"/>
<rect x="1579" y="486" width="2" height="1" fill="#000"/>
<rect x="1579" y="518" width="2" height="1" fill="#000"/>
<rect x="1579" y="552" width="2" height="1" fill="#000"/>
</g>
<text x="1584.00" y="61" font-size="10" fill="#000" stroke="#000" stroke-width="0.1" textLength="33.36" lengthAdjust="spacingAndGlyphs" >1.37090</text>
<text x="1584.00" y="94" font-size="10" fill="#000" stroke="#000" stroke-width="0.1" textLength="33.36" lengthAdjust="spacingAndGlyphs" >1.36390</text>
<text x="1584.00" y="127" font-size="10" fill="#000" stroke="#000" stroke-width="0.1" textLength="33.36" lengthAdjust="spacingAndGlyphs" >1.35690</text>
<text x="1584.00" y="160" font-size="10" fill="#000" stroke="#000" stroke-width="0.1" textLength="33.36" lengthAdjust="spacingAndGlyphs" >1.34990</text>
<text x="1584.00" y="193" font-size="10" fill="#000" stroke="#000" stroke-width="0.1" textLength="33.36" lengthAdjust="spacingAndGlyphs" >1.34310</text>
<text x="1584.00" y="226" font-size="10" fill="#000" stroke="#000" stroke-width="0.1" textLength="33.36" lengthAdjust="spacingAndGlyphs" >1.33610</text>
<text x="1584.00" y="259" font-size="10" fill="#000" stroke="#000" stroke-width="0.1" textLength="33.36" lengthAdjust="spacingAndGlyphs" >1.32910</text>
<text x="1584.00" y="292" font-size="10" fill="#000" stroke="#000" stroke-width="0.1" textLength="33.36" lengthAdjust="spacingAndGlyphs" >1.32210</text>
<text x="1584.00" y="325" font-size="10" fill="#000" stroke="#000" stroke-width="0.1" textLength="33.36" lengthAdjust="spacingAndGlyphs" >1.31520</text>
<text x="1584.00" y="358" font-size="10" fill="#000" stroke="#000" stroke-width="0.1" textLength="33.36" lengthAdjust="spacingAndGlyphs" >1.30830</text>
<text x="1584.00" y="391" font-size="10" fill="#000" stroke="#000" stroke-width="0.1" textLength="33.36" lengthAdjust="spacingAndGlyphs" >1.30130</text>
<text x="1584.00" y="424" font-size="10" fill="#000" stroke="#000" stroke-width="0.1" textLength="33.36" lengthAdjust="spacingAndGlyphs" >1.29430</text>
<text x="1584.00" y="457" font-size="10" fill="#000" stroke="#000" stroke-width="0.1" textLength="33.36" lengthAdjust="spacingAndGlyphs" >1.28750</text>
<text x="1584.00" y="490" font-size="10" fill="#000" stroke="#000" stroke-width="0.1" textLength="33.36" lengthAdjust="spacingAndGlyphs" >1.28050</text>
<text x="1584.00" y="522" font-size="10" fill="#000" stroke="#000" stroke-width="0.1" textLength="33.36" lengthAdjust="spacingAndGlyphs" >1.27370</text>
<text x="1584.00" y="556" font-size="10" fill="#000" stroke="#000" stroke-width="0.1" textLength="33.36" lengthAdjust="spacingAndGlyphs" >1.26670</text>
<rect x="1580" y="244" width="40" height="11" fill="#ff0000" shape-rendering="crispEdges"/>
<text x="1583.99" y="253" font-size="10" fill="#fff" stroke="#fff" stroke-width="0.1" textLength="33.47" lengthAdjust="spacingAndGlyphs" >1.33017</text>
<rect x="1580" y="321" width="40" height="11" fill="#ff0000" shape-rendering="crispEdges"/>
<text x="1584.00" y="330" font-size="10" fill="#fff" stroke="#fff" stroke-width="0.1" textLength="33.36" lengthAdjust="spacingAndGlyphs" >1.31400</text>
<rect x="1580" y="410" width="40" height="11" fill="#00ff00" shape-rendering="crispEdges"/>
<text x="1583.99" y="419" font-size="10" fill="#fff" stroke="#fff" stroke-width="0.1" textLength="33.47" lengthAdjust="spacingAndGlyphs" >1.29527</text>
<rect x="1580" y="481" width="40" height="11" fill="#0000ff" shape-rendering="crispEdges"/>
<text x="1584.00" y="490" font-size="10" fill="#fff" stroke="#fff" stroke-width="0.1" textLength="33.44" lengthAdjust="spacingAndGlyphs" >1.28029</text>
<rect x="1580" y="513" width="40" height="11" fill="#000000" shape-rendering="crispEdges"/>
<text x="1584.00" y="522" font-size="10" fill="#fff" stroke="#fff" stroke-width="0.1" textLength="33.27" lengthAdjust="spacingAndGlyphs" >1.27374</text>
<rect x="1580" y="530" width="40" height="11" fill="#0000ff" shape-rendering="crispEdges"/>
<text x="1584.00" y="539" font-size="10" fill="#fff" stroke="#fff" stroke-width="0.1" textLength="33.44" lengthAdjust="spacingAndGlyphs" >1.27009</text>
<g clip-path="url(#crsi)">
<line x1="2" y1="587.5" x2="1578" y2="587.5" stroke="#c0c0c0" stroke-dasharray="3,3" stroke-dashoffset="-1" shape-rendering="crispEdges"/>
<line x1="2" y1="624.5" x2="1578" y2="624.5" stroke="#c0c0c0" stroke-dasharray="3,3" stroke-dashoffset="-1" shape-rendering="crispEdges"/>
<path d="M672 588h4v1h-4zM668 589h4v1h-4zM676 589h4v1h-4zM657 590h11v1h-11zM680 590h4v1h-4zM696 590h3v1h-3zM655 591h2v1h-2zM684 591h4v1h-4zM692 591h4v1h-4zM699 591h1v1h-1zM653 592h2v1h-2zM688 592h4v1h-4zM699 592h1v1h-1zM651 593h2v1h-2zM700 593h1v1h-1zM905 593h3v1h-3zM646 594h5v1h-5zM701 594h1v1h-1zM902 594h3v1h-3zM908 594h2v1h-2zM642 595h4v1h-4zM702 595h1v1h-1zM900 595h2v1h-2zM910 595h3v1h-3zM641 596h1v1h-1zM702 596h1v1h-1zM898 596h2v1h-2zM913 596h3v1h-3zM640 597h1v1h-1zM703 597h1v1h-1zM897 597h1v1h-1zM916 597h4v1h-4zM639 598h1v1h-1zM704 598h1v1h-1zM897 598h1v1h-1zM920 598h3v1h-3zM638 599h1v1h-1zM705 599h1v1h-1zM896 599h1v1h-1zM923 599h2v1h-2zM638 600h1v1h-1zM705 600h1v1h-1zM896 600h1v1h-1zM925 600h2v1h-2zM48 601h4v1h-4zM637 601h1v1h-1zM706 601h2v1h-2zM721 601h3v1h-3zM895 601h1v1h-1zM927 601h2v1h-2zM44 602h4v1h-4zM52 602h2v1h-2zM64 602h3v1h-3zM636 602h1v1h-1zM708 602h2v1h-2zM718 602h3v1h-3zM724 602h4v1h-4zM894 602h1v1h-1zM929 602h2v1h-2zM41 603h3v1h-3zM54 603h3v1h-3zM60 603h4v1h-4zM67 603h2v1h-2zM601 603h2v1h-2zM617 603h3v1h-3zM635 603h1v1h-1zM710 603h3v1h-3zM716 603h2v1h-2zM728 603h4v1h-4zM882 603h1v1h-1zM894 603h1v1h-1zM931 603h1v1h-1zM39 604h2v1h-2zM57 604h3v1h-3zM69 604h1v1h-1zM554 604h2v1h-2zM582 604h6v1h-6zM598 604h3v1h-3zM603 604h2v1h-2zM615 604h2v1h-2zM620 604h2v1h-2zM632 604h3v1h-3zM713 604h3v1h-3zM732 604h2v1h-2zM810 604h1v1h-1zM881 604h1v1h-1zM883 604h1v1h-1zM893 604h1v1h-1zM931 604h1v1h-1zM1009 604h3v1h-3zM37 605h2v1h-2zM70 605h2v1h-2zM169 605h2v1h-2zM553 605h1v1h-1zM556 605h2v1h-2zM576 605h6v1h-6zM588 605h4v1h-4zM596 605h2v1h-2zM605 605h2v1h-2zM613 605h2v1h-2zM622 605h3v1h-3zM628 605h4v1h-4zM734 605h3v1h-3zM742 605h13v1h-13zM809 605h1v1h-1zM811 605h2v1h-2zM880 605h1v1h-1zM884 605h2v1h-2zM892 605h1v1h-1zM932 605h1v1h-1zM1006 605h3v1h-3zM1012 605h4v1h-4zM35 606h2v1h-2zM72 606h2v1h-2zM167 606h2v1h-2zM171 606h1v1h-1zM553 606h1v1h-1zM558 606h3v1h-3zM572 606h4v1h-4zM592 606h4v1h-4zM607 606h2v1h-2zM611 606h2v1h-2zM625 606h3v1h-3zM737 606h5v1h-5zM755 606h1v1h-1zM808 606h1v1h-1zM813 606h1v1h-1zM879 606h1v1h-1zM886 606h1v1h-1zM892 606h1v1h-1zM933 606h1v1h-1zM1004 606h2v1h-2zM1016 606h3v1h-3zM34 607h1v1h-1zM74 607h2v1h-2zM142 607h14v1h-14zM165 607h2v1h-2zM172 607h1v1h-1zM193 607h10v1h-10zM552 607h1v1h-1zM561 607h11v1h-11zM609 607h2v1h-2zM756 607h2v1h-2zM808 607h1v1h-1zM814 607h2v1h-2zM878 607h1v1h-1zM887 607h1v1h-1zM891 607h1v1h-1zM933 607h1v1h-1zM1001 607h3v1h-3zM1019 607h2v1h-2zM33 608h1v1h-1zM76 608h4v1h-4zM121 608h2v1h-2zM137 608h5v1h-5zM156 608h4v1h-4zM163 608h2v1h-2zM173 608h1v1h-1zM190 608h3v1h-3zM203 608h2v1h-2zM551 608h1v1h-1zM758 608h1v1h-1zM807 608h1v1h-1zM816 608h2v1h-2zM878 608h1v1h-1zM888 608h2v1h-2zM891 608h1v1h-1zM934 608h1v1h-1zM999 608h2v1h-2zM1021 608h1v1h-1zM1064 608h11v1h-11zM2 609h9v1h-9zM32 609h1v1h-1zM80 609h12v1h-12zM119 609h2v1h-2zM123 609h2v1h-2zM135 609h2v1h-2zM160 609h3v1h-3zM174 609h2v1h-2zM188 609h2v1h-2zM205 609h2v1h-2zM338 609h4v1h-4zM550 609h1v1h-1zM759 609h1v1h-1zM806 609h1v1h-1zM818 609h4v1h-4zM877 609h1v1h-1zM890 609h1v1h-1zM935 609h1v1h-1zM997 609h2v1h-2zM1022 609h2v1h-2zM1032 609h4v1h-4zM1048 609h6v1h-6zM1060 609h4v1h-4zM1075 609h2v1h-2zM11 610h2v1h-2zM31 610h1v1h-1zM92 610h4v1h-4zM117 610h2v1h-2zM125 610h2v1h-2zM133 610h2v1h-2zM176 610h1v1h-1zM184 610h4v1h-4zM207 610h2v1h-2zM337 610h1v1h-1zM342 610h6v1h-6zM550 610h1v1h-1zM760 610h2v1h-2zM805 610h1v1h-1zM822 610h6v1h-6zM876 610h1v1h-1zM935 610h1v1h-1zM995 610h2v1h-2zM1024 610h2v1h-2zM1028 610h4v1h-4zM1036 610h4v1h-4zM1044 610h4v1h-4zM1054 610h6v1h-6zM1077 610h1v1h-1zM13 611h2v1h-2zM30 611h1v1h-1zM96 611h14v1h-14zM115 611h2v1h-2zM127 611h2v1h-2zM131 611h2v1h-2zM177 611h1v1h-1zM180 611h4v1h-4zM209 611h2v1h-2zM282 611h1v1h-1zM336 611h1v1h-1zM348 611h4v1h-4zM549 611h1v1h-1zM762 611h1v1h-1zM804 611h1v1h-1zM828 611h4v1h-4zM864 611h6v1h-6zM875 611h1v1h-1zM936 611h1v1h-1zM945 611h2v1h-2zM994 611h1v1h-1zM1026 611h2v1h-2zM1040 611h4v1h-4zM1078 611h2v1h-2zM15 612h2v1h-2zM29 612h1v1h-1zM110 612h5v1h-5zM129 612h2v1h-2zM178 612h2v1h-2zM211 612h1v1h-1zM281 612h1v1h-1zM283 612h2v1h-2zM305 612h2v1h-2zM336 612h1v1h-1zM352 612h3v1h-3zM548 612h1v1h-1zM763 612h1v1h-1zM804 612h1v1h-1zM832 612h4v1h-4zM860 612h4v1h-4zM870 612h5v1h-5zM937 612h1v1h-1zM942 612h3v1h-3zM947 612h1v1h-1zM992 612h2v1h-2zM1080 612h2v1h-2zM17 613h3v1h-3zM28 613h1v1h-1zM212 613h1v1h-1zM280 613h1v1h-1zM285 613h2v1h-2zM302 613h3v1h-3zM307 613h2v1h-2zM335 613h1v1h-1zM355 613h2v1h-2zM522 613h2v1h-2zM547 613h1v1h-1zM764 613h1v1h-1zM803 613h1v1h-1zM836 613h2v1h-2zM848 613h12v1h-12zM937 613h1v1h-1zM940 613h2v1h-2zM948 613h2v1h-2zM990 613h2v1h-2zM1082 613h2v1h-2zM1096 613h3v1h-3zM20 614h4v1h-4zM27 614h1v1h-1zM213 614h1v1h-1zM279 614h1v1h-1zM287 614h2v1h-2zM300 614h2v1h-2zM309 614h2v1h-2zM334 614h1v1h-1zM357 614h2v1h-2zM450 614h2v1h-2zM521 614h1v1h-1zM524 614h2v1h-2zM547 614h1v1h-1zM765 614h1v1h-1zM798 614h5v1h-5zM838 614h3v1h-3zM844 614h4v1h-4zM938 614h2v1h-2zM950 614h1v1h-1zM989 614h1v1h-1zM1084 614h4v1h-4zM1092 614h4v1h-4zM1099 614h2v1h-2zM24 615h3v1h-3zM214 615h2v1h-2zM278 615h1v1h-1zM289 615h11v1h-11zM311 615h2v1h-2zM333 615h1v1h-1zM359 615h2v1h-2zM448 615h2v1h-2zM452 615h2v1h-2zM520 615h1v1h-1zM526 615h3v1h-3zM546 615h1v1h-1zM766 615h1v1h-1zM793 615h5v1h-5zM841 615h3v1h-3zM951 615h1v1h-1zM987 615h2v1h-2zM1088 615h4v1h-4zM1101 615h2v1h-2zM1112 615h4v1h-4zM216 616h1v1h-1zM242 616h10v1h-10zM277 616h1v1h-1zM313 616h2v1h-2zM332 616h1v1h-1zM361 616h3v1h-3zM385 616h11v1h-11zM446 616h2v1h-2zM454 616h3v1h-3zM520 616h1v1h-1zM529 616h2v1h-2zM544 616h2v1h-2zM767 616h1v1h-1zM791 616h2v1h-2zM952 616h2v1h-2zM986 616h1v1h-1zM1103 616h2v1h-2zM1108 616h4v1h-4zM1116 616h2v1h-2zM217 617h1v1h-1zM240 617h2v1h-2zM252 617h2v1h-2zM276 617h1v1h-1zM315 617h1v1h-1zM332 617h1v1h-1zM364 617h4v1h-4zM383 617h2v1h-2zM396 617h2v1h-2zM433 617h3v1h-3zM445 617h1v1h-1zM457 617h3v1h-3zM519 617h1v1h-1zM531 617h2v1h-2zM542 617h2v1h-2zM768 617h1v1h-1zM776 617h4v1h-4zM789 617h2v1h-2zM954 617h17v1h-17zM984 617h2v1h-2zM1105 617h3v1h-3zM1118 617h3v1h-3zM1126 617h6v1h-6zM218 618h2v1h-2zM239 618h1v1h-1zM254 618h3v1h-3zM275 618h1v1h-1zM316 618h1v1h-1zM331 618h1v1h-1zM368 618h4v1h-4zM381 618h2v1h-2zM398 618h3v1h-3zM430 618h3v1h-3zM436 618h4v1h-4zM443 618h2v1h-2zM460 618h2v1h-2zM518 618h1v1h-1zM533 618h2v1h-2zM541 618h1v1h-1zM769 618h1v1h-1zM772 618h4v1h-4zM780 618h4v1h-4zM787 618h2v1h-2zM971 618h2v1h-2zM982 618h2v1h-2zM1121 618h5v1h-5zM1132 618h4v1h-4zM220 619h4v1h-4zM238 619h1v1h-1zM257 619h5v1h-5zM270 619h5v1h-5zM317 619h1v1h-1zM329 619h2v1h-2zM372 619h4v1h-4zM379 619h2v1h-2zM401 619h3v1h-3zM428 619h2v1h-2zM440 619h3v1h-3zM462 619h3v1h-3zM517 619h1v1h-1zM535 619h2v1h-2zM539 619h2v1h-2zM770 619h2v1h-2zM784 619h3v1h-3zM973 619h2v1h-2zM981 619h1v1h-1zM1136 619h3v1h-3zM1233 619h3v1h-3zM224 620h4v1h-4zM236 620h2v1h-2zM262 620h8v1h-8zM318 620h2v1h-2zM327 620h2v1h-2zM376 620h3v1h-3zM404 620h4v1h-4zM422 620h6v1h-6zM465 620h3v1h-3zM516 620h1v1h-1zM537 620h2v1h-2zM975 620h2v1h-2zM979 620h2v1h-2zM1139 620h2v1h-2zM1202 620h4v1h-4zM1214 620h6v1h-6zM1231 620h2v1h-2zM1236 620h4v1h-4zM228 621h4v1h-4zM235 621h1v1h-1zM320 621h1v1h-1zM325 621h2v1h-2zM408 621h14v1h-14zM468 621h2v1h-2zM516 621h1v1h-1zM977 621h2v1h-2zM1141 621h1v1h-1zM1201 621h1v1h-1zM1206 621h8v1h-8zM1220 621h2v1h-2zM1229 621h2v1h-2zM1240 621h2v1h-2zM232 622h3v1h-3zM321 622h1v1h-1zM323 622h2v1h-2zM470 622h3v1h-3zM515 622h1v1h-1zM1142 622h2v1h-2zM1200 622h1v1h-1zM1222 622h3v1h-3zM1227 622h2v1h-2zM322 623h1v1h-1zM473 623h13v1h-13zM513 623h2v1h-2zM1144 623h2v1h-2zM1184 623h3v1h-3zM1199 623h1v1h-1zM1225 623h2v1h-2zM486 624h6v1h-6zM510 624h3v1h-3zM1146 624h2v1h-2zM1169 624h5v1h-5zM1180 624h4v1h-4zM1187 624h2v1h-2zM1198 624h1v1h-1zM492 625h2v1h-2zM508 625h2v1h-2zM1148 625h2v1h-2zM1167 625h2v1h-2zM1174 625h6v1h-6zM1189 625h1v1h-1zM1197 625h1v1h-1zM494 626h3v1h-3zM502 626h6v1h-6zM1150 626h3v1h-3zM1165 626h2v1h-2zM1190 626h2v1h-2zM1196 626h1v1h-1zM497 627h5v1h-5zM1153 627h5v1h-5zM1163 627h2v1h-2zM1192 627h2v1h-2zM1195 627h1v1h-1zM1158 628h5v1h-5zM1194 628h1v1h-1z" fill="#1e90ff" shape-rendering="crispEdges"/>
</g>
<text x="5.94" y="570" font-size="10" fill="#000" stroke="#000" stroke-width="0.1" textLength="68.13" lengthAdjust="spacingAndGlyphs" >RSI(14) 32.5024</text>
<text x="1581.80" y="568" font-size="10" fill="#000" stroke="#000" stroke-width="0.1" textLength="15.36" lengthAdjust="spacingAndGlyphs" >100</text>
<text x="1581.15" y="591" font-size="10" fill="#000" stroke="#000" stroke-width="0.1" textLength="9.80" lengthAdjust="spacingAndGlyphs" >70</text>
<text x="1581.27" y="628" font-size="10" fill="#000" stroke="#000" stroke-width="0.1" textLength="9.67" lengthAdjust="spacingAndGlyphs" >30</text>
<text x="1581.49" y="650" font-size="10" fill="#000" stroke="#000" stroke-width="0.1" textLength="5.82" lengthAdjust="spacingAndGlyphs" >0</text>
<g shape-rendering="crispEdges"><rect x="1579" y="558" width="2" height="1" fill="#000"/><rect x="1579" y="652" width="2" height="1" fill="#000"/></g>
<g clip-path="url(#cmacd)">
<g shape-rendering="crispEdges">
<rect x="2" y="690" width="1" height="36" fill="#c0c0c0"/>
<rect x="10" y="690" width="1" height="32" fill="#c0c0c0"/>
<rect x="18" y="690" width="1" height="31" fill="#c0c0c0"/>
<rect x="26" y="690" width="1" height="31" fill="#c0c0c0"/>
<rect x="34" y="690" width="1" height="27" fill="#c0c0c0"/>
<rect x="42" y="690" width="1" height="22" fill="#c0c0c0"/>
<rect x="50" y="690" width="1" height="16" fill="#c0c0c0"/>
<rect x="58" y="690" width="1" height="12" fill="#c0c0c0"/>
<rect x="66" y="690" width="1" height="8" fill="#c0c0c0"/>
<rect x="74" y="690" width="1" height="8" fill="#c0c0c0"/>
<rect x="82" y="690" width="1" height="9" fill="#c0c0c0"/>
<rect x="90" y="690" width="1" height="9" fill="#c0c0c0"/>
<rect x="98" y="690" width="1" height="10" fill="#c0c0c0"/>
<rect x="106" y="690" width="1" height="11" fill="#c0c0c0"/>
<rect x="114" y="690" width="1" height="13" fill="#c0c0c0"/>
<rect x="122" y="690" width="1" height="12" fill="#c0c0c0"/>
<rect x="130" y="690" width="1" height="13" fill="#c0c0c0"/>
<rect x="138" y="690" width="1" height="12" fill="#c0c0c0"/>
<rect x="146" y="690" width="1" height="11" fill="#c0c0c0"/>
<rect x="154" y="690" width="1" height="10" fill="#c0c0c0"/>
<rect x="162" y="690" width="1" height="10" fill="#c0c0c0"/>
<rect x="170" y="690" width="1" height="8" fill="#c0c0c0"/>
<rect x="178" y="690" width="1" height="10" fill="#c0c0c0"/>
<rect x="186" y="690" width="1" height="11" fill="#c0c0c0"/>
<rect x="194" y="690" width="1" height="10" fill="#c0c0c0"/>
<rect x="202" y="690" width="1" height="9" fill="#c0c0c0"/>
<rect x="210" y="690" width="1" height="10" fill="#c0c0c0"/>
<rect x="218" y="690" width="1" height="14" fill="#c0c0c0"/>
<rect x="226" y="690" width="1" height="19" fill="#c0c0c0"/>
<rect x="234" y="690" width="1" height="23" fill="#c0c0c0"/>
<rect x="242" y="690" width="1" height="25" fill="#c0c0c0"/>
<rect x="250" y="690" width="1" height="25" fill="#c0c0c0"/>
<rect x="258" y="690" width="1" height="27" fill="#c0c0c0"/>
<rect x="266" y="690" width="1" height="29" fill="#c0c0c0"/>
<rect x="274" y="690" width="1" height="30" fill="#c0c0c0"/>
<rect x="282" y="690" width="1" height="28" fill="#c0c0c0"/>
<rect x="290" y="690" width="1" height="28" fill="#c0c0c0"/>
<rect x="298" y="690" width="1" height="28" fill="#c0c0c0"/>
<rect x="306" y="690" width="1" height="26" fill="#c0c0c0"/>
<rect x="314" y="690" width="1" height="27" fill="#c0c0c0"/>
<rect x="322" y="690" width="1" height="31" fill="#c0c0c0"/>
<rect x="330" y="690" width="1" height="33" fill="#c0c0c0"/>
<rect x="338" y="690" width="1" height="30" fill="#c0c0c0"/>
<rect x="346" y="690" width="1" height="27" fill="#c0c0c0"/>
<rect x="354" y="690" width="1" height="26" fill="#c0c0c0"/>
<rect x="362" y="690" width="1" height="27" fill="#c0c0c0"/>
<rect x="370" y="690" width="1" height="30" fill="#c0c0c0"/>
<rect x="378" y="690" width="1" height="33" fill="#c0c0c0"/>
<rect x="386" y="690" width="1" height="33" fill="#c0c0c0"/>
<rect x="394" y="690" width="1" height="33" fill="#c0c0c0"/>
<rect x="402" y="690" width="1" height="35" fill="#c0c0c0"/>
<rect x="410" y="690" width="1" height="36" fill="#c0c0c0"/>
<rect x="418" y="690" width="1" height="38" fill="#c0c0c0"/>
<rect x="426" y="690" width="1" height="38" fill="#c0c0c0"/>
<rect x="434" y="690" width="1" height="37" fill="#c0c0c0"/>
<rect x="442" y="690" width="1" height="36" fill="#c0c0c0"/>
<rect x="450" y="690" width="1" height="34" fill="#c0c0c0"/>
<rect x="458" y="690" width="1" height="33" fill="#c0c0c0"/>
<rect x="466" y="690" width="1" height="34" fill="#c0c0c0"/>
<rect x="474" y="690" width="1" height="35" fill="#c0c0c0"/>
<rect x="482" y="690" width="1" height="36" fill="#c0c0c0"/>
<rect x="490" y="690" width="1" height="37" fill="#c0c0c0"/>
<rect x="498" y="690" width="1" height="40" fill="#c0c0c0"/>
<rect x="506" y="690" width="1" height="41" fill="#c0c0c0"/>
<rect x="514" y="690" width="1" height="41" fill="#c0c0c0"/>
<rect x="522" y="690" width="1" height="37" fill="#c0c0c0"/>
<rect x="530" y="690" width="1" height="36" fill="#c0c0c0"/>
<rect x="538" y="690" width="1" height="36" fill="#c0c0c0"/>
<rect x="546" y="690" width="1" height="34" fill="#c0c0c0"/>
<rect x="554" y="690" width="1" height="28" fill="#c0c0c0"/>
<rect x="562" y="690" width="1" height="24" fill="#c0c0c0"/>
<rect x="570" y="690" width="1" height="21" fill="#c0c0c0"/>
<rect x="578" y="690" width="1" height="17" fill="#c0c0c0"/>
<rect x="586" y="690" width="1" height="14" fill="#c0c0c0"/>
<rect x="594" y="690" width="1" height="12" fill="#c0c0c0"/>
<rect x="602" y="690" width="1" height="9" fill="#c0c0c0"/>
<rect x="610" y="690" width="1" height="8" fill="#c0c0c0"/>
<rect x="618" y="690" width="1" height="6" fill="#c0c0c0"/>
<rect x="626" y="690" width="1" height="5" fill="#c0c0c0"/>
<rect x="634" y="690" width="1" height="3" fill="#c0c0c0"/>
<rect x="642" y="688" width="1" height="3" fill="#c0c0c0"/>
<rect x="650" y="683" width="1" height="8" fill="#c0c0c0"/>
<rect x="658" y="677" width="1" height="14" fill="#c0c0c0"/>
<rect x="666" y="673" width="1" height="18" fill="#c0c0c0"/>
<rect x="674" y="668" width="1" height="23" fill="#c0c0c0"/>
<rect x="682" y="665" width="1" height="26" fill="#c0c0c0"/>
<rect x="690" y="664" width="1" height="27" fill="#c0c0c0"/>
<rect x="698" y="662" width="1" height="29" fill="#c0c0c0"/>
<rect x="706" y="664" width="1" height="27" fill="#c0c0c0"/>
<rect x="714" y="667" width="1" height="24" fill="#c0c0c0"/>
<rect x="722" y="669" width="1" height="22" fill="#c0c0c0"/>
<rect x="730" y="671" width="1" height="20" fill="#c0c0c0"/>
<rect x="738" y="675" width="1" height="16" fill="#c0c0c0"/>
<rect x="746" y="677" width="1" height="14" fill="#c0c0c0"/>
<rect x="754" y="679" width="1" height="12" fill="#c0c0c0"/>
<rect x="762" y="683" width="1" height="8" fill="#c0c0c0"/>
<rect x="778" y="690" width="1" height="6" fill="#c0c0c0"/>
<rect x="786" y="690" width="1" height="10" fill="#c0c0c0"/>
<rect x="794" y="690" width="1" height="13" fill="#c0c0c0"/>
<rect x="802" y="690" width="1" height="14" fill="#c0c0c0"/>
<rect x="810" y="690" width="1" height="12" fill="#c0c0c0"/>
<rect x="818" y="690" width="1" height="11" fill="#c0c0c0"/>
<rect x="826" y="690" width="1" height="11" fill="#c0c0c0"/>
<rect x="834" y="690" width="1" height="13" fill="#c0c0c0"/>
<rect x="842" y="690" width="1" height="15" fill="#c0c0c0"/>
<rect x="850" y="690" width="1" height="16" fill="#c0c0c0"/>
<rect x="858" y="690" width="1" height="16" fill="#c0c0c0"/>
<rect x="866" y="690" width="1" height="16" fill="#c0c0c0"/>
<rect x="874" y="690" width="1" height="16" fill="#c0c0c0"/>
<rect x="882" y="690" width="1" height="12" fill="#c0c0c0"/>
<rect x="890" y="690" width="1" height="12" fill="#c0c0c0"/>
<rect x="898" y="690" width="1" height="5" fill="#c0c0c0"/>
<rect x="906" y="688" width="1" height="3" fill="#c0c0c0"/>
<rect x="914" y="683" width="1" height="8" fill="#c0c0c0"/>
<rect x="922" y="681" width="1" height="10" fill="#c0c0c0"/>
<rect x="930" y="680" width="1" height="11" fill="#c0c0c0"/>
<rect x="938" y="687" width="1" height="4" fill="#c0c0c0"/>
<rect x="946" y="690" width="1" height="1" fill="#c0c0c0"/>
<rect x="954" y="690" width="1" height="8" fill="#c0c0c0"/>
<rect x="962" y="690" width="1" height="14" fill="#c0c0c0"/>
<rect x="970" y="690" width="1" height="18" fill="#c0c0c0"/>
<rect x="978" y="690" width="1" height="24" fill="#c0c0c0"/>
<rect x="986" y="690" width="1" height="26" fill="#c0c0c0"/>
<rect x="994" y="690" width="1" height="26" fill="#c0c0c0"/>
<rect x="1002" y="690" width="1" height="23" fill="#c0c0c0"/>
<rect x="1010" y="690" width="1" height="18" fill="#c0c0c0"/>
<rect x="1018" y="690" width="1" height="16" fill="#c0c0c0"/>
<rect x="1026" y="690" width="1" height="17" fill="#c0c0c0"/>
<rect x="1034" y="690" width="1" height="16" fill="#c0c0c0"/>
<rect x="1042" y="690" width="1" height="16" fill="#c0c0c0"/>
<rect x="1050" y="690" width="1" height="15" fill="#c0c0c0"/>
<rect x="1058" y="690" width="1" height="16" fill="#c0c0c0"/>
<rect x="1066" y="690" width="1" height="14" fill="#c0c0c0"/>
<rect x="1074" y="690" width="1" height="13" fill="#c0c0c0"/>
<rect x="1082" y="690" width="1" height="15" fill="#c0c0c0"/>
<rect x="1090" y="690" width="1" height="17" fill="#c0c0c0"/>
<rect x="1098" y="690" width="1" height="17" fill="#c0c0c0"/>
<rect x="1106" y="690" width="1" height="20" fill="#c0c0c0"/>
<rect x="1114" y="690" width="1" height="21" fill="#c0c0c0"/>
<rect x="1122" y="690" width="1" height="23" fill="#c0c0c0"/>
<rect x="1130" y="690" width="1" height="24" fill="#c0c0c0"/>
<rect x="1138" y="690" width="1" height="25" fill="#c0c0c0"/>
<rect x="1146" y="690" width="1" height="29" fill="#c0c0c0"/>
<rect x="1154" y="690" width="1" height="34" fill="#c0c0c0"/>
<rect x="1162" y="690" width="1" height="38" fill="#c0c0c0"/>
<rect x="1170" y="690" width="1" height="40" fill="#c0c0c0"/>
<rect x="1178" y="690" width="1" height="42" fill="#c0c0c0"/>
<rect x="1186" y="690" width="1" height="43" fill="#c0c0c0"/>
<rect x="1194" y="690" width="1" height="46" fill="#c0c0c0"/>
<rect x="1202" y="690" width="1" height="46" fill="#c0c0c0"/>
<rect x="1210" y="690" width="1" height="45" fill="#c0c0c0"/>
<rect x="1218" y="690" width="1" height="44" fill="#c0c0c0"/>
<rect x="1226" y="690" width="1" height="45" fill="#c0c0c0"/>
<rect x="1234" y="690" width="1" height="43" fill="#c0c0c0"/>
<rect x="1242" y="690" width="1" height="42" fill="#c0c0c0"/>
</g>
<path d="M722 666h3v1h-3zM728 666h3v1h-3zM734 666h3v1h-3zM740 666h2v1h-2zM716 667h3v1h-3zM742 667h1v1h-1zM746 667h3v1h-3zM752 668h3v1h-3zM710 669h3v1h-3zM758 670h3v1h-3zM705 671h2v1h-2zM704 672h1v1h-1zM764 672h2v1h-2zM700 673h1v1h-1zM766 673h1v1h-1zM698 674h2v1h-2zM770 674h1v1h-1zM771 675h2v1h-2zM693 676h2v1h-2zM692 677h1v1h-1zM776 677h1v1h-1zM777 678h2v1h-2zM686 679h3v1h-3zM782 680h3v1h-3zM681 681h2v1h-2zM680 682h1v1h-1zM788 682h1v1h-1zM789 683h2v1h-2zM675 684h2v1h-2zM674 685h1v1h-1zM794 685h1v1h-1zM795 686h2v1h-2zM669 687h2v1h-2zM668 688h1v1h-1zM800 688h1v1h-1zM801 689h2v1h-2zM944 689h3v1h-3zM950 689h3v1h-3zM956 689h3v1h-3zM962 689h2v1h-2zM662 690h3v1h-3zM940 690h1v1h-1zM964 690h1v1h-1zM806 691h3v1h-3zM938 691h2v1h-2zM968 691h3v1h-3zM657 692h2v1h-2zM932 692h3v1h-3zM656 693h1v1h-1zM812 693h2v1h-2zM974 693h3v1h-3zM652 694h1v1h-1zM814 694h1v1h-1zM926 694h3v1h-3zM650 695h2v1h-2zM818 695h2v1h-2zM980 695h2v1h-2zM646 696h1v1h-1zM820 696h1v1h-1zM921 696h2v1h-2zM982 696h1v1h-1zM644 697h2v1h-2zM824 697h1v1h-1zM920 697h1v1h-1zM986 697h1v1h-1zM640 698h1v1h-1zM825 698h2v1h-2zM916 698h1v1h-1zM987 698h2v1h-2zM206 699h3v1h-3zM212 699h2v1h-2zM638 699h2v1h-2zM830 699h2v1h-2zM914 699h2v1h-2zM118 700h1v1h-1zM122 700h3v1h-3zM128 700h3v1h-3zM182 700h3v1h-3zM188 700h3v1h-3zM194 700h3v1h-3zM200 700h3v1h-3zM214 700h1v1h-1zM218 700h3v1h-3zM633 700h2v1h-2zM832 700h1v1h-1zM836 700h2v1h-2zM908 700h3v1h-3zM992 700h1v1h-1zM110 701h3v1h-3zM116 701h2v1h-2zM134 701h3v1h-3zM140 701h3v1h-3zM146 701h3v1h-3zM152 701h3v1h-3zM158 701h3v1h-3zM164 701h3v1h-3zM170 701h3v1h-3zM176 701h3v1h-3zM224 701h3v1h-3zM632 701h1v1h-1zM838 701h1v1h-1zM842 701h2v1h-2zM904 701h1v1h-1zM993 701h2v1h-2zM104 702h3v1h-3zM230 702h3v1h-3zM628 702h1v1h-1zM844 702h1v1h-1zM902 702h2v1h-2zM98 703h3v1h-3zM236 703h3v1h-3zM626 703h2v1h-2zM848 703h3v1h-3zM854 703h3v1h-3zM860 703h2v1h-2zM896 703h3v1h-3zM998 703h1v1h-1zM94 704h1v1h-1zM242 704h2v1h-2zM620 704h3v1h-3zM862 704h1v1h-1zM866 704h3v1h-3zM872 704h3v1h-3zM878 704h3v1h-3zM884 704h3v1h-3zM890 704h3v1h-3zM999 704h2v1h-2zM92 705h2v1h-2zM244 705h1v1h-1zM1078 705h1v1h-1zM1082 705h3v1h-3zM1088 705h3v1h-3zM1094 705h3v1h-3zM1100 705h2v1h-2zM88 706h1v1h-1zM248 706h3v1h-3zM614 706h3v1h-3zM1004 706h2v1h-2zM1070 706h3v1h-3zM1076 706h2v1h-2zM1102 706h1v1h-1zM1106 706h3v1h-3zM1112 706h3v1h-3zM86 707h2v1h-2zM254 707h2v1h-2zM1006 707h1v1h-1zM1064 707h3v1h-3zM1118 707h3v1h-3zM1124 707h2v1h-2zM81 708h2v1h-2zM256 708h1v1h-1zM609 708h2v1h-2zM1010 708h3v1h-3zM1054 708h1v1h-1zM1058 708h3v1h-3zM1126 708h1v1h-1zM1130 708h3v1h-3zM80 709h1v1h-1zM260 709h3v1h-3zM608 709h1v1h-1zM1016 709h3v1h-3zM1046 709h3v1h-3zM1052 709h2v1h-2zM1136 709h3v1h-3zM76 710h1v1h-1zM266 710h2v1h-2zM1022 710h3v1h-3zM1028 710h2v1h-2zM1040 710h3v1h-3zM1142 710h2v1h-2zM74 711h2v1h-2zM268 711h1v1h-1zM603 711h2v1h-2zM1030 711h1v1h-1zM1034 711h3v1h-3zM1144 711h1v1h-1zM70 712h1v1h-1zM272 712h1v1h-1zM602 712h1v1h-1zM1148 712h3v1h-3zM68 713h2v1h-2zM273 713h2v1h-2zM598 713h1v1h-1zM1154 713h2v1h-2zM278 714h2v1h-2zM596 714h2v1h-2zM1156 714h1v1h-1zM63 715h2v1h-2zM280 715h1v1h-1zM284 715h2v1h-2zM1160 715h1v1h-1zM62 716h1v1h-1zM286 716h1v1h-1zM290 716h2v1h-2zM590 716h3v1h-3zM1161 716h2v1h-2zM292 717h1v1h-1zM1166 717h2v1h-2zM57 718h2v1h-2zM296 718h3v1h-3zM302 718h3v1h-3zM308 718h3v1h-3zM314 718h3v1h-3zM585 718h2v1h-2zM1168 718h1v1h-1zM56 719h1v1h-1zM320 719h3v1h-3zM326 719h3v1h-3zM332 719h3v1h-3zM338 719h3v1h-3zM344 719h3v1h-3zM350 719h3v1h-3zM356 719h3v1h-3zM362 719h3v1h-3zM368 719h3v1h-3zM584 719h1v1h-1zM1172 719h2v1h-2zM52 720h1v1h-1zM374 720h3v1h-3zM380 720h3v1h-3zM386 720h3v1h-3zM580 720h1v1h-1zM1174 720h1v1h-1zM50 721h2v1h-2zM392 721h3v1h-3zM398 721h3v1h-3zM404 721h2v1h-2zM578 721h2v1h-2zM1178 721h2v1h-2zM406 722h1v1h-1zM410 722h3v1h-3zM572 722h3v1h-3zM1180 722h1v1h-1zM45 723h2v1h-2zM416 723h3v1h-3zM1184 723h3v1h-3zM44 724h1v1h-1zM422 724h3v1h-3zM428 724h2v1h-2zM566 724h3v1h-3zM430 725h1v1h-1zM434 725h3v1h-3zM1190 725h3v1h-3zM39 726h2v1h-2zM440 726h3v1h-3zM446 726h3v1h-3zM452 726h3v1h-3zM458 726h3v1h-3zM464 726h3v1h-3zM470 726h3v1h-3zM476 726h3v1h-3zM482 726h3v1h-3zM488 726h3v1h-3zM494 726h3v1h-3zM500 726h2v1h-2zM560 726h3v1h-3zM38 727h1v1h-1zM502 727h1v1h-1zM506 727h3v1h-3zM512 727h3v1h-3zM550 727h1v1h-1zM554 727h3v1h-3zM1196 727h2v1h-2zM518 728h3v1h-3zM524 728h3v1h-3zM530 728h3v1h-3zM536 728h3v1h-3zM542 728h3v1h-3zM548 728h2v1h-2zM1198 728h1v1h-1zM33 729h2v1h-2zM1202 729h2v1h-2zM32 730h1v1h-1zM1204 730h1v1h-1zM1208 731h3v1h-3zM27 732h2v1h-2zM1214 732h2v1h-2zM26 733h1v1h-1zM1216 733h1v1h-1zM1220 733h2v1h-2zM1222 734h1v1h-1zM1226 734h3v1h-3zM21 735h2v1h-2zM1232 735h3v1h-3zM1238 735h3v1h-3zM20 736h1v1h-1zM16 738h1v1h-1zM14 739h2v1h-2zM9 742h2v1h-2zM8 743h1v1h-1zM4 744h1v1h-1zM2 745h2v1h-2z" fill="#ff0000" shape-rendering="crispEdges"/>
</g>
<text x="5.63" y="668" font-size="10" fill="#000" stroke="#000" stroke-width="0.1" textLength="154.54" lengthAdjust="spacingAndGlyphs" >MACD(12,26,9) -0.008424 -0.008732</text>
<g clip-path="url(#cright)">
<text x="1581.75" y="666" font-size="10" fill="#000" stroke="#000" stroke-width="0.1" textLength="37.43" lengthAdjust="spacingAndGlyphs" >0.006535</text>
<text x="1581.75" y="694" font-size="10" fill="#000" stroke="#000" stroke-width="0.1" textLength="17.40" lengthAdjust="spacingAndGlyphs" >0.00</text>
<text x="1581.69" y="748" font-size="10" fill="#000" stroke="#000" stroke-width="0.1" textLength="41.51" lengthAdjust="spacingAndGlyphs" >-0.011766</text>
</g>
<g shape-rendering="crispEdges"><rect x="1579" y="657" width="2" height="1" fill="#000"/><rect x="1579" y="690" width="2" height="1" fill="#000"/><rect x="1579" y="750" width="2" height="1" fill="#000"/></g>
<g shape-rendering="crispEdges">
<rect x="2" y="752" width="1" height="3" fill="#000"/>
<rect x="66" y="752" width="1" height="3" fill="#000"/>
<rect x="130" y="752" width="1" height="3" fill="#000"/>
<rect x="194" y="752" width="1" height="3" fill="#000"/>
<rect x="258" y="752" width="1" height="3" fill="#000"/>
<rect x="322" y="752" width="1" height="3" fill="#000"/>
<rect x="386" y="752" width="1" height="3" fill="#000"/>
<rect x="450" y="752" width="1" height="3" fill="#000"/>
<rect x="514" y="752" width="1" height="3" fill="#000"/>
<rect x="578" y="752" width="1" height="3" fill="#000"/>
<rect x="642" y="752" width="1" height="3" fill="#000"/>
<rect x="706" y="752" width="1" height="3" fill="#000"/>
<rect x="770" y="752" width="1" height="3" fill="#000"/>
<rect x="834" y="752" width="1" height="3" fill="#000"/>
<rect x="898" y="752" width="1" height="3" fill="#000"/>
<rect x="962" y="752" width="1" height="3" fill="#000"/>
<rect x="1026" y="752" width="1" height="3" fill="#000"/>
<rect x="1090" y="752" width="1" height="3" fill="#000"/>
<rect x="1154" y="752" width="1" height="3" fill="#000"/>
<rect x="1218" y="752" width="1" height="3" fill="#000"/>
</g>
<text x="0.90" y="764" font-size="10" fill="#000" stroke="#000" stroke-width="0.1" textLength="50.46" lengthAdjust="spacingAndGlyphs" >19 Jun 2020</text>
<text x="64.84" y="764" font-size="10" fill="#000" stroke="#000" stroke-width="0.1" textLength="50.52" lengthAdjust="spacingAndGlyphs" >29 Jun 2020</text>
<text x="128.50" y="764" font-size="10" fill="#000" stroke="#000" stroke-width="0.1" textLength="42.87" lengthAdjust="spacingAndGlyphs" >8 Jul 2020</text>
<text x="192.80" y="764" font-size="10" fill="#000" stroke="#000" stroke-width="0.1" textLength="47.46" lengthAdjust="spacingAndGlyphs" >17 Jul 2020</text>
<text x="256.84" y="764" font-size="10" fill="#000" stroke="#000" stroke-width="0.1" textLength="47.22" lengthAdjust="spacingAndGlyphs" >27 Jul 2020</text>
<text x="320.72" y="764" font-size="10" fill="#000" stroke="#000" stroke-width="0.1" textLength="48.14" lengthAdjust="spacingAndGlyphs" >5 Aug 2020</text>
<text x="384.39" y="764" font-size="10" fill="#000" stroke="#000" stroke-width="0.1" textLength="52.98" lengthAdjust="spacingAndGlyphs" >14 Aug 2020</text>
<text x="448.43" y="764" font-size="10" fill="#000" stroke="#000" stroke-width="0.1" textLength="53.54" lengthAdjust="spacingAndGlyphs" >24 Aug 2020</text>
<text x="513.04" y="764" font-size="10" fill="#000" stroke="#000" stroke-width="0.1" textLength="47.22" lengthAdjust="spacingAndGlyphs" >2 Sep 2020</text>
<text x="576.60" y="764" font-size="10" fill="#000" stroke="#000" stroke-width="0.1" textLength="52.36" lengthAdjust="spacingAndGlyphs" >11 Sep 2020</text>
<text x="640.63" y="764" font-size="10" fill="#000" stroke="#000" stroke-width="0.1" textLength="52.53" lengthAdjust="spacingAndGlyphs" >21 Sep 2020</text>
<text x="704.75" y="764" font-size="10" fill="#000" stroke="#000" stroke-width="0.1" textLength="52.62" lengthAdjust="spacingAndGlyphs" >30 Sep 2020</text>
<text x="768.45" y="764" font-size="10" fill="#000" stroke="#000" stroke-width="0.1" textLength="46.82" lengthAdjust="spacingAndGlyphs" >9 Oct 2020</text>
<text x="832.78" y="764" font-size="10" fill="#000" stroke="#000" stroke-width="0.1" textLength="51.59" lengthAdjust="spacingAndGlyphs" >19 Oct 2020</text>
<text x="896.83" y="764" font-size="10" fill="#000" stroke="#000" stroke-width="0.1" textLength="51.24" lengthAdjust="spacingAndGlyphs" >28 Oct 2020</text>
<text x="960.60" y="764" font-size="10" fill="#000" stroke="#000" stroke-width="0.1" textLength="50.28" lengthAdjust="spacingAndGlyphs" >6 Nov 2020</text>
<text x="1024.36" y="764" font-size="10" fill="#000" stroke="#000" stroke-width="0.1" textLength="54.81" lengthAdjust="spacingAndGlyphs" >16 Nov 2020</text>
<text x="1088.82" y="764" font-size="10" fill="#000" stroke="#000" stroke-width="0.1" textLength="54.56" lengthAdjust="spacingAndGlyphs" >25 Nov 2020</text>
<text x="1152.79" y="764" font-size="10" fill="#000" stroke="#000" stroke-width="0.1" textLength="47.58" lengthAdjust="spacingAndGlyphs" >4 Dec 2020</text>
<text x="1216.29" y="764" font-size="10" fill="#000" stroke="#000" stroke-width="0.1" textLength="52.57" lengthAdjust="spacingAndGlyphs" >14 Dec 2020</text>
<g shape-rendering="crispEdges">
<rect x="0" y="772" width="1620" height="1" fill="#e3e3e3"/>
<rect x="0" y="774" width="1620" height="18" fill="#f0f0f0"/>
<rect x="0" y="774" width="1620" height="1" fill="#000"/>
<rect x="0" y="775" width="1620" height="1" fill="#fff"/>
<rect x="312" y="773" width="102" height="19" fill="#fff"/>
<rect x="311" y="774" width="1" height="18" fill="#000"/><rect x="310" y="775" width="1" height="17" fill="#fff"/>
<rect x="414" y="774" width="1" height="18" fill="#000"/><rect x="415" y="775" width="1" height="17" fill="#fff"/>
<rect x="107" y="777" width="1" height="14" fill="#5a5a5a"/>
<rect x="207" y="777" width="1" height="14" fill="#5a5a5a"/>
<rect x="519" y="777" width="1" height="14" fill="#5a5a5a"/>
<rect x="622" y="777" width="1" height="14" fill="#5a5a5a"/>
<rect x="714" y="777" width="1" height="14" fill="#5a5a5a"/>
<rect x="831" y="777" width="1" height="14" fill="#5a5a5a"/>
<rect x="903" y="777" width="1" height="14" fill="#5a5a5a"/>
<rect x="983" y="777" width="1" height="14" fill="#5a5a5a"/>
<rect x="1063" y="777" width="1" height="14" fill="#5a5a5a"/>
<rect x="1142" y="777" width="1" height="14" fill="#5a5a5a"/>
<rect x="1219" y="777" width="1" height="14" fill="#5a5a5a"/>
<rect x="1303" y="777" width="1" height="14" fill="#5a5a5a"/>
<rect x="1387" y="777" width="1" height="14" fill="#5a5a5a"/>
<rect x="1467" y="777" width="1" height="14" fill="#5a5a5a"/>
<rect x="1567" y="777" width="1" height="14" fill="#5a5a5a"/>
</g>
<g clip-path="url(#ctabs)">
<text x="14.62" y="789" font-size="12" fill="#5f5f5f" stroke="#5f5f5f" stroke-width="0.1" textLength="80.00" lengthAdjust="spacingAndGlyphs" >EURUSD,Daily</text>
<text x="116.68" y="789" font-size="12" fill="#5f5f5f" stroke="#5f5f5f" stroke-width="0.1" textLength="79.34" lengthAdjust="spacingAndGlyphs" >USDCHF,Daily</text>
<text x="218.38" y="789" font-size="12" fill="#5f5f5f" stroke="#5f5f5f" stroke-width="0.1" textLength="81.15" lengthAdjust="spacingAndGlyphs" >AUDUSD,Daily</text>
<text x="321.77" y="789" font-size="12" fill="#000" stroke="#000" stroke-width="0.1" textLength="81.26" lengthAdjust="spacingAndGlyphs" >USDCAD,Daily</text>
<text x="423.74" y="789" font-size="12" fill="#5f5f5f" stroke="#5f5f5f" stroke-width="0.1" textLength="84.28" lengthAdjust="spacingAndGlyphs" >USDCNH,Daily</text>
<text x="530.61" y="789" font-size="12" fill="#5f5f5f" stroke="#5f5f5f" stroke-width="0.1" textLength="80.81" lengthAdjust="spacingAndGlyphs" >EURUSD,Daily</text>
<text x="634.40" y="789" font-size="12" fill="#5f5f5f" stroke="#5f5f5f" stroke-width="0.1" textLength="68.44" lengthAdjust="spacingAndGlyphs" >GBPUSD,H4</text>
<text x="724.42" y="789" font-size="12" fill="#5f5f5f" stroke="#5f5f5f" stroke-width="0.1" textLength="95.40" lengthAdjust="spacingAndGlyphs" >XAUUSD,Weekly</text>
<text x="840.98" y="789" font-size="12" fill="#5f5f5f" stroke="#5f5f5f" stroke-width="0.1" textLength="50.32" lengthAdjust="spacingAndGlyphs" >HK50,H1</text>
<text x="913.02" y="789" font-size="12" fill="#5f5f5f" stroke="#5f5f5f" stroke-width="0.1" textLength="58.60" lengthAdjust="spacingAndGlyphs" >UK100,H1</text>
<text x="993.03" y="789" font-size="12" fill="#5f5f5f" stroke="#5f5f5f" stroke-width="0.1" textLength="58.29" lengthAdjust="spacingAndGlyphs" >UK100,H1</text>
<text x="1073.20" y="789" font-size="12" fill="#5f5f5f" stroke="#5f5f5f" stroke-width="0.1" textLength="57.99" lengthAdjust="spacingAndGlyphs" >GER30,H1</text>
<text x="1152.01" y="789" font-size="12" fill="#5f5f5f" stroke="#5f5f5f" stroke-width="0.1" textLength="56.38" lengthAdjust="spacingAndGlyphs" >FRA40,H1</text>
<text x="1227.83" y="789" font-size="12" fill="#5f5f5f" stroke="#5f5f5f" stroke-width="0.1" textLength="64.19" lengthAdjust="spacingAndGlyphs" >USOil,Daily</text>
<text x="1312.10" y="789" font-size="12" fill="#5f5f5f" stroke="#5f5f5f" stroke-width="0.1" textLength="63.86" lengthAdjust="spacingAndGlyphs" >USDJPY,H1</text>
<text x="1396.80" y="789" font-size="12" fill="#5f5f5f" stroke="#5f5f5f" stroke-width="0.1" textLength="59.23" lengthAdjust="spacingAndGlyphs" >DJ30,Daily</text>
<text x="1476.87" y="789" font-size="12" fill="#5f5f5f" stroke="#5f5f5f" stroke-width="0.1" textLength="79.04" lengthAdjust="spacingAndGlyphs" >CHINA300,H1</text>
<text x="1576.82" y="789" font-size="12" fill="#5f5f5f" stroke="#5f5f5f" stroke-width="0.1" textLength="65.44" lengthAdjust="spacingAndGlyphs" >USDCHF,H1</text>
</g>
<polygon points="1597.5,780.5 1597.5,786.5 1594,783.5" fill="#a0a0a0"/>
<polygon points="1612,780.5 1612,786.5 1615.5,783.5" fill="#000"/>
</svg></body></html>
